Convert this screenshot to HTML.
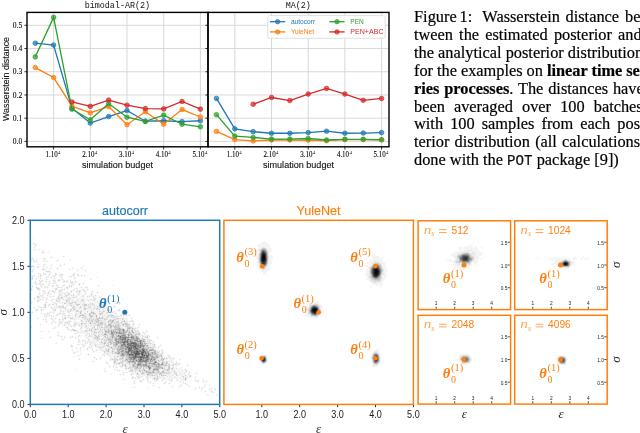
<!DOCTYPE html>
<html><head><meta charset="utf-8"><style>
html,body{margin:0;padding:0;background:#fff;width:640px;height:433px;overflow:hidden;position:relative}
.l{will-change:transform;position:absolute;left:414.3px;width:246px;font-family:"Liberation Serif",serif;font-size:16.35px;line-height:18px;color:#000;-webkit-text-stroke:0.2px #000;white-space:nowrap}
.j{text-align:justify;text-align-last:justify;white-space:normal}
.m{font-family:"Liberation Mono",monospace;font-size:14.2px;color:#111}
.sp{display:inline-block;height:1px}
b{font-weight:bold}
</style></head><body>
<svg width="640" height="433" viewBox="0 0 640 433" style="position:absolute;left:0;top:0;will-change:transform"><g fill="none" stroke-width="1" shape-rendering="crispEdges"><path stroke="rgb(244,244,244)" d="M0 0.5m262 241h4m-233 1h1m227 0h5m1 0h1m205 0h1m-442 1h1m1 0h2m225 0h1m1 0h5m204 0h1m-440 1h2m1 0h1m221 0h11m201 0h1m-437 1h1m1 0h1m221 0h12m199 0h3m2 0h1m-441 1h2m221 0h13m191 0h1m3 0h8m2 0h1m-441 1h1m223 0h3m3 0h5m188 0h5m1 0h9m2 0h2m4 0h2m-449 1h1m223 0h3m6 0h5m186 0h4m1 0h15m4 0h1m-450 1h1m1 0h1m2 0h1m1 0h1m216 0h2m8 0h4m188 0h3m2 0h14m-444 1h1m4 0h1m2 0h1m213 0h2m10 0h4m188 0h7m3 0h1m1 0h7m-437 1h2m213 0h2m9 0h4m182 0h1m2 0h7m1 0h2m2 0h3m1 0h7m-439 1h1m2 0h1m2 0h1m1 0h1m208 0h1m10 0h1m104 0h1m79 0h8m8 0h2m3 0h8m-441 1h2m213 0h2m10 0h1m104 0h1m77 0h6m18 0h6m2 0h1m-229 1h2m11 0h1m103 0h2m76 0h6m18 0h7m2 0h1m-230 1h3m11 0h4m98 0h6m74 0h6m18 0h7m-431 1h1m10 0h1m1 0h1m190 0h3m11 0h4m98 0h8m73 0h3m20 0h1m1 0h2m4 0h1m60 0h1m38 0h1m-552 1h1m11 0h1m5 0h1m1 0h1m10 0h1m192 0h2m11 0h4m99 0h7m75 0h2m19 0h2m1 0h2m56 0h1m15 0h3m1 0h2m1 0h1m2 0h2m1 0h1m8 0h3m5 0h1m4 0h2m-558 1h1m1 0h1m9 0h1m1 0h1m5 0h1m204 0h2m11 0h4m100 0h7m1 0h2m71 0h2m19 0h4m1 0h1m3 0h1m42 0h2m6 0h1m2 0h2m5 0h1m2 0h22m2 0h5m3 0h3m2 0h4m9 0h1m-568 1h3m9 0h1m1 0h1m11 0h1m12 0h1m186 0h1m11 0h3m98 0h2m1 0h9m67 0h2m3 0h2m19 0h4m1 0h2m68 0h3m1 0h10m3 0h3m2 0h3m6 0h2m1 0h3m-555 1h1m1 0h1m1 0h1m6 0h2m1 0h1m9 0h1m1 0h1m10 0h1m187 0h1m11 0h2m99 0h5m1 0h1m1 0h5m3 0h1m59 0h6m2 0h1m20 0h3m73 0h2m2 0h6m9 0h1m-540 1h1m1 0h1m1 0h1m1 0h1m6 0h2m1 0h1m9 0h1m199 0h1m11 0h3m98 0h4m2 0h1m1 0h5m67 0h5m18 0h1m1 0h3m77 0h4m12 0h4m-541 1h1m1 0h1m219 0h2m11 0h3m95 0h5m7 0h6m68 0h2m17 0h6m75 0h5m15 0h2m-537 1h1m5 0h1m19 0h1m192 0h2m10 0h3m95 0h1m2 0h2m9 0h5m68 0h2m15 0h1m2 0h3m75 0h5m15 0h3m-538 1h1m1 0h1m3 0h1m1 0h1m5 0h1m8 0h1m2 0h1m1 0h1m191 0h2m9 0h3m95 0h1m2 0h3m10 0h4m67 0h4m3 0h2m9 0h1m3 0h1m76 0h2m2 0h1m15 0h3m-544 1h3m4 0h1m4 0h2m5 0h1m1 0h1m6 0h1m1 0h1m2 0h1m193 0h1m9 0h2m94 0h4m1 0h2m11 0h3m68 0h4m2 0h3m2 0h8m3 0h1m81 0h3m11 0h1m2 0h2m-542 1h1m2 0h1m1 0h1m2 0h1m1 0h1m1 0h1m4 0h1m8 0h1m22 0h1m173 0h2m8 0h3m96 0h4m12 0h4m68 0h17m4 0h1m77 0h2m2 0h3m10 0h1m-540 1h3m2 0h1m1 0h1m4 0h1m1 0h1m1 0h1m2 0h1m6 0h1m14 0h1m7 0h1m1 0h1m175 0h2m6 0h4m97 0h2m14 0h4m66 0h3m1 0h14m88 0h5m5 0h2m-538 1h1m3 0h1m4 0h3m1 0h1m2 0h1m1 0h1m4 0h1m1 0h1m10 0h1m1 0h1m1 0h1m7 0h1m177 0h1m6 0h5m96 0h2m14 0h3m68 0h2m1 0h8m3 0h3m93 0h3m-535 1h1m1 0h1m6 0h1m3 0h1m4 0h1m6 0h1m10 0h1m1 0h1m1 0h1m4 0h1m7 0h1m173 0h3m5 0h3m97 0h2m15 0h2m1 0h1m67 0h1m1 0h3m3 0h2m-433 1h2m8 0h3m1 0h4m19 0h1m6 0h1m1 0h1m5 0h1m176 0h2m1 0h6m97 0h2m15 0h4m67 0h1m2 0h1m-428 1h1m1 0h1m11 0h1m4 0h1m26 0h1m7 0h1m174 0h7m99 0h3m15 0h3m-355 1h1m5 0h1m4 0h1m2 0h4m1 0h1m3 0h1m18 0h1m185 0h1m2 0h3m100 0h3m14 0h4m-350 1h1m1 0h2m1 0h1m1 0h2m3 0h2m3 0h1m1 0h1m3 0h1m1 0h1m10 0h1m1 0h1m1 0h1m185 0h3m100 0h3m15 0h2m-352 1h1m3 0h2m1 0h1m1 0h2m1 0h1m1 0h1m1 0h1m6 0h1m1 0h1m3 0h1m8 0h1m1 0h1m1 0h1m1 0h1m2 0h1m2 0h1m178 0h3m1 0h1m97 0h3m16 0h2m-354 1h2m1 0h1m2 0h1m3 0h1m2 0h1m2 0h2m3 0h2m1 0h1m1 0h1m3 0h1m6 0h1m1 0h2m1 0h1m2 0h1m1 0h2m1 0h2m1 0h1m279 0h4m14 0h4m-356 1h1m1 0h2m2 0h1m1 0h1m1 0h1m4 0h2m1 0h1m1 0h2m2 0h1m3 0h3m6 0h1m1 0h1m1 0h2m1 0h1m2 0h1m2 0h1m2 0h1m281 0h2m14 0h5m-356 1h1m4 0h1m1 0h1m1 0h1m4 0h1m1 0h2m1 0h1m1 0h3m5 0h1m1 0h1m6 0h1m1 0h1m2 0h1m292 0h1m14 0h4m-356 1h1m2 0h1m1 0h1m1 0h1m1 0h1m1 0h1m4 0h1m4 0h1m1 0h1m1 0h1m3 0h1m1 0h2m10 0h1m1 0h1m14 0h1m276 0h2m14 0h2m-354 1h2m3 0h1m2 0h2m1 0h1m2 0h1m1 0h1m5 0h2m3 0h1m1 0h2m1 0h1m6 0h1m3 0h1m16 0h1m274 0h4m12 0h3m-347 1h1m1 0h2m1 0h1m1 0h2m2 0h1m2 0h1m2 0h1m1 0h1m2 0h1m1 0h3m1 0h2m1 0h1m1 0h1m3 0h1m291 0h3m11 0h4m-350 1h1m3 0h1m2 0h1m2 0h1m1 0h2m1 0h1m2 0h1m1 0h1m2 0h2m2 0h1m2 0h1m2 0h1m1 0h3m1 0h1m1 0h1m293 0h1m10 0h2m-349 1h1m1 0h1m2 0h3m4 0h1m2 0h1m3 0h2m1 0h1m6 0h5m1 0h1m3 0h4m6 0h1m286 0h2m5 0h1m2 0h3m-349 1h1m1 0h1m1 0h1m2 0h3m4 0h1m1 0h1m1 0h1m1 0h2m14 0h5m3 0h2m2 0h1m1 0h1m287 0h2m1 0h8m-348 1h1m1 0h5m2 0h1m3 0h3m2 0h1m2 0h2m5 0h2m4 0h1m1 0h2m1 0h1m3 0h1m1 0h1m2 0h1m289 0h6m1 0h3m-351 1h1m3 0h1m2 0h1m1 0h3m1 0h1m1 0h1m1 0h1m2 0h1m1 0h2m2 0h1m3 0h1m2 0h1m2 0h1m1 0h1m1 0h2m5 0h1m17 0h1m1 0h1m271 0h1m4 0h2m1 0h3m-351 1h1m1 0h1m2 0h1m3 0h1m1 0h1m1 0h1m1 0h3m2 0h1m1 0h1m2 0h4m1 0h1m1 0h2m1 0h3m1 0h1m1 0h1m8 0h1m3 0h3m10 0h1m272 0h1m8 0h2m-350 1h1m2 0h1m2 0h2m1 0h1m1 0h1m1 0h2m1 0h1m3 0h1m2 0h3m1 0h2m1 0h1m2 0h1m2 0h2m1 0h1m4 0h1m3 0h1m1 0h1m1 0h1m1 0h1m1 0h1m281 0h1m9 0h1m-350 1h1m8 0h1m3 0h1m2 0h1m6 0h1m2 0h2m2 0h2m1 0h3m1 0h1m5 0h2m1 0h1m3 0h1m1 0h1m1 0h3m15 0h1m266 0h1m-341 1h1m1 0h1m19 0h1m1 0h1m2 0h1m1 0h2m2 0h1m1 0h1m1 0h1m5 0h1m1 0h3m2 0h1m1 0h1m1 0h1m1 0h1m1 0h1m13 0h1m-72 1h1m6 0h1m1 0h1m1 0h3m4 0h1m1 0h1m1 0h2m1 0h1m1 0h1m2 0h4m5 0h3m1 0h1m1 0h1m1 0h1m2 0h2m1 0h4m4 0h1m-54 1h1m2 0h1m2 0h1m2 0h1m1 0h2m2 0h2m2 0h1m3 0h1m4 0h1m2 0h1m1 0h2m1 0h1m2 0h1m3 0h2m2 0h1m4 0h1m1 0h1m3 0h1m-59 1h1m3 0h3m1 0h1m1 0h1m2 0h2m1 0h1m2 0h1m1 0h7m1 0h4m4 0h1m1 0h1m1 0h1m3 0h2m5 0h2m3 0h1m1 0h1m-61 1h1m1 0h1m1 0h1m1 0h1m1 0h2m1 0h2m3 0h1m3 0h1m1 0h2m1 0h1m1 0h3m2 0h1m2 0h1m3 0h5m2 0h1m1 0h1m3 0h1m1 0h1m4 0h1m-59 1h2m1 0h2m1 0h1m1 0h3m1 0h1m6 0h1m2 0h2m1 0h3m3 0h3m1 0h1m2 0h1m2 0h1m1 0h2m1 0h1m4 0h1m1 0h1m2 0h1m-59 1h3m3 0h1m2 0h1m1 0h1m1 0h1m2 0h1m4 0h1m3 0h1m1 0h1m3 0h3m1 0h1m1 0h6m1 0h2m1 0h1m2 0h4m1 0h3m1 0h1m-61 1h1m2 0h2m1 0h2m3 0h1m1 0h1m1 0h2m1 0h1m2 0h1m2 0h1m1 0h2m3 0h3m1 0h2m1 0h2m1 0h1m2 0h2m2 0h1m1 0h1m1 0h1m1 0h3m1 0h2m3 0h1m-66 1h1m1 0h1m3 0h3m1 0h1m1 0h2m2 0h1m2 0h1m2 0h2m5 0h6m1 0h3m3 0h2m1 0h1m1 0h4m1 0h4m2 0h1m1 0h2m2 0h1m1 0h1m6 0h1m-75 1h1m1 0h1m1 0h4m1 0h2m1 0h1m1 0h1m4 0h1m3 0h1m3 0h1m2 0h2m1 0h1m4 0h14m1 0h2m2 0h2m1 0h1m2 0h1m2 0h1m2 0h2m2 0h1m1 0h1m3 0h1m1 0h1m7 0h1m-89 1h1m2 0h2m2 0h1m1 0h1m1 0h1m1 0h1m3 0h1m1 0h5m2 0h3m1 0h2m4 0h4m2 0h1m1 0h3m3 0h7m1 0h1m9 0h1m1 0h1m2 0h1m5 0h1m-78 1h1m2 0h2m1 0h1m3 0h1m3 0h1m1 0h1m2 0h1m4 0h1m2 0h3m4 0h2m1 0h8m3 0h4m1 0h4m2 0h1m1 0h4m2 0h2m2 0h2m13 0h1m-92 1h1m7 0h1m6 0h1m4 0h1m1 0h1m1 0h2m3 0h1m1 0h1m1 0h2m2 0h1m1 0h2m1 0h1m4 0h4m2 0h7m1 0h5m1 0h2m7 0h1m1 0h1m9 0h1m191 0h1m4 0h2m-286 1h1m5 0h1m6 0h1m1 0h1m4 0h1m1 0h2m1 0h1m1 0h3m1 0h2m2 0h1m8 0h4m1 0h5m2 0h13m7 0h1m9 0h1m1 0h1m189 0h9m-288 1h1m12 0h3m2 0h1m2 0h3m1 0h1m3 0h4m2 0h2m5 0h2m2 0h2m1 0h3m2 0h5m4 0h5m1 0h2m1 0h2m1 0h1m11 0h1m1 0h1m187 0h7m2 0h3m-277 1h1m2 0h1m1 0h1m1 0h2m2 0h2m1 0h1m4 0h7m3 0h3m5 0h2m12 0h5m1 0h3m1 0h4m11 0h1m188 0h2m9 0h2m-283 1h1m7 0h2m1 0h1m2 0h2m1 0h1m1 0h5m1 0h1m2 0h1m1 0h2m4 0h2m3 0h4m4 0h1m3 0h3m1 0h4m1 0h2m3 0h1m8 0h1m192 0h2m11 0h3m-289 1h1m2 0h1m1 0h2m2 0h1m2 0h1m1 0h1m2 0h1m2 0h4m6 0h4m2 0h3m2 0h5m1 0h2m4 0h1m3 0h3m1 0h2m3 0h2m2 0h2m7 0h1m1 0h1m190 0h3m12 0h2m-290 1h1m1 0h1m2 0h2m1 0h2m3 0h1m3 0h1m1 0h2m1 0h1m1 0h1m8 0h2m3 0h1m4 0h3m3 0h2m1 0h3m3 0h3m1 0h2m3 0h3m1 0h5m5 0h2m190 0h2m13 0h2m-289 1h1m1 0h2m2 0h2m1 0h1m1 0h1m5 0h1m1 0h4m1 0h2m1 0h2m3 0h3m1 0h2m3 0h4m2 0h2m6 0h4m8 0h2m2 0h4m2 0h2m6 0h1m185 0h2m14 0h1m-287 1h1m2 0h1m1 0h1m1 0h1m1 0h1m7 0h2m2 0h1m3 0h2m2 0h1m1 0h4m6 0h8m2 0h5m1 0h1m1 0h2m5 0h7m1 0h2m1 0h1m5 0h1m1 0h1m183 0h3m14 0h1m-287 1h1m1 0h1m2 0h1m1 0h2m8 0h1m3 0h1m2 0h1m1 0h3m1 0h2m5 0h1m2 0h1m3 0h2m1 0h9m1 0h7m1 0h2m2 0h3m3 0h3m4 0h1m2 0h1m184 0h2m14 0h2m-291 1h1m3 0h1m4 0h1m8 0h1m2 0h3m3 0h2m1 0h1m1 0h3m4 0h5m6 0h5m1 0h3m3 0h5m2 0h1m3 0h11m2 0h2m186 0h2m13 0h3m-293 1h1m1 0h1m7 0h1m5 0h3m1 0h2m1 0h1m4 0h6m2 0h1m1 0h3m2 0h5m3 0h5m1 0h2m5 0h4m5 0h2m2 0h4m1 0h4m189 0h2m13 0h3m-292 1h1m7 0h1m1 0h1m1 0h3m2 0h2m2 0h1m3 0h2m2 0h2m2 0h1m2 0h5m2 0h1m1 0h2m3 0h2m2 0h3m7 0h3m4 0h3m2 0h7m1 0h1m189 0h2m12 0h3m-282 1h1m1 0h1m1 0h2m1 0h2m6 0h1m1 0h4m1 0h3m2 0h5m1 0h1m2 0h3m6 0h2m3 0h1m5 0h2m4 0h6m3 0h6m2 0h4m2 0h1m2 0h1m176 0h2m12 0h3m-279 1h5m1 0h2m1 0h1m1 0h1m1 0h2m3 0h2m2 0h2m2 0h5m2 0h2m7 0h3m5 0h1m3 0h2m1 0h1m3 0h2m7 0h6m2 0h1m1 0h2m1 0h2m1 0h1m174 0h5m9 0h2m-278 1h1m1 0h1m1 0h1m1 0h2m1 0h1m1 0h1m1 0h1m5 0h9m1 0h1m1 0h1m1 0h2m3 0h1m5 0h2m9 0h1m1 0h2m1 0h4m11 0h6m2 0h1m2 0h1m177 0h3m8 0h3m-284 1h1m6 0h1m1 0h1m4 0h1m1 0h1m1 0h1m5 0h1m1 0h1m2 0h2m1 0h1m3 0h2m1 0h3m1 0h2m5 0h2m4 0h3m8 0h2m3 0h2m1 0h1m3 0h1m1 0h6m2 0h1m4 0h1m178 0h8m-282 1h1m1 0h1m4 0h1m1 0h1m4 0h1m1 0h1m1 0h1m1 0h1m2 0h1m2 0h2m2 0h1m1 0h2m3 0h9m6 0h1m5 0h1m13 0h5m1 0h1m9 0h2m1 0h1m2 0h1m1 0h1m180 0h5m-281 1h1m4 0h1m1 0h1m1 0h1m4 0h1m1 0h1m1 0h1m2 0h1m1 0h2m2 0h3m3 0h4m1 0h9m19 0h1m4 0h1m10 0h3m2 0h4m3 0h1m-89 1h1m1 0h2m5 0h2m5 0h5m4 0h3m3 0h2m4 0h1m2 0h3m17 0h1m2 0h2m8 0h1m2 0h3m3 0h3m2 0h1m1 0h2m183 0h1m-273 1h1m1 0h1m4 0h1m1 0h2m2 0h1m1 0h2m1 0h1m1 0h3m3 0h1m1 0h4m3 0h1m2 0h3m20 0h1m12 0h2m6 0h1m1 0h1m4 0h1m-89 1h1m4 0h1m1 0h2m1 0h1m4 0h2m1 0h1m5 0h1m2 0h2m1 0h6m1 0h3m1 0h1m18 0h1m16 0h1m4 0h1m1 0h1m1 0h2m-94 1h1m9 0h1m1 0h1m2 0h1m2 0h1m3 0h1m1 0h3m2 0h1m4 0h1m1 0h2m1 0h2m5 0h3m17 0h2m20 0h2m2 0h1m1 0h1m4 0h1m-101 1h1m11 0h1m6 0h2m1 0h1m1 0h1m1 0h1m1 0h1m1 0h2m2 0h1m3 0h4m2 0h2m1 0h4m2 0h2m27 0h1m8 0h1m1 0h1m1 0h1m3 0h1m1 0h1m-101 1h1m16 0h1m1 0h1m3 0h1m1 0h1m2 0h2m1 0h2m2 0h4m1 0h1m1 0h3m2 0h1m1 0h2m1 0h2m9 0h1m26 0h4m5 0h1m-109 1h1m23 0h1m2 0h1m5 0h1m1 0h2m2 0h1m1 0h2m1 0h1m2 0h3m1 0h3m2 0h6m2 0h2m6 0h1m17 0h1m1 0h2m5 0h2m1 0h1m4 0h1m-86 1h2m1 0h1m8 0h1m2 0h1m2 0h1m2 0h1m5 0h1m1 0h1m1 0h1m2 0h5m3 0h2m25 0h4m7 0h3m1 0h1m1 0h1m-88 1h1m1 0h2m10 0h3m3 0h2m5 0h1m2 0h1m1 0h3m1 0h1m1 0h1m21 0h1m12 0h2m9 0h1m1 0h1m-86 1h1m13 0h1m1 0h1m1 0h1m3 0h1m3 0h4m2 0h4m4 0h1m5 0h1m36 0h2m-90 1h1m19 0h1m1 0h1m5 0h2m2 0h5m8 0h1m2 0h3m37 0h1m1 0h1m7 0h1m-107 1h1m1 0h1m6 0h1m8 0h1m12 0h1m1 0h4m1 0h3m1 0h2m4 0h3m5 0h2m5 0h1m35 0h1m3 0h1m1 0h1m1 0h1m-100 1h1m8 0h1m1 0h1m15 0h1m1 0h1m1 0h14m47 0h1m1 0h1m1 0h1m1 0h1m-89 1h1m15 0h1m1 0h1m1 0h1m1 0h3m1 0h3m1 0h1m1 0h3m4 0h1m1 0h2m39 0h1m1 0h2m1 0h1m-88 1h1m16 0h1m3 0h1m5 0h4m1 0h1m1 0h1m3 0h2m43 0h2m1 0h1m2 0h1m-91 1h1m1 0h1m1 0h1m10 0h1m5 0h1m1 0h2m1 0h3m1 0h2m3 0h2m6 0h1m39 0h1m2 0h4m1 0h2m-100 1h1m7 0h1m1 0h1m1 0h1m1 0h1m5 0h2m1 0h1m1 0h1m1 0h1m1 0h2m3 0h4m4 0h2m6 0h1m1 0h1m36 0h3m2 0h1m3 0h1m1 0h1m6 0h1m-117 1h1m7 0h1m1 0h1m9 0h1m1 0h1m1 0h1m3 0h1m1 0h2m1 0h1m1 0h1m1 0h1m6 0h1m1 0h7m6 0h3m37 0h2m1 0h2m3 0h2m6 0h1m1 0h1m-117 1h1m7 0h1m11 0h1m1 0h1m5 0h1m4 0h2m1 0h1m7 0h5m1 0h1m7 0h1m44 0h2m1 0h1m8 0h1m-97 1h1m1 0h1m13 0h1m1 0h1m2 0h1m1 0h1m2 0h1m1 0h2m1 0h3m51 0h1m3 0h2m-90 1h1m15 0h2m1 0h1m1 0h1m1 0h1m1 0h1m1 0h7m3 0h2m1 0h1m43 0h1m5 0h1m-76 1h1m2 0h1m1 0h3m1 0h4m1 0h10m1 0h2m3 0h1m42 0h4m-98 1h1m20 0h3m4 0h3m1 0h1m2 0h1m1 0h4m1 0h1m52 0h2m1 0h1m-100 1h1m1 0h1m20 0h1m3 0h1m1 0h1m1 0h2m1 0h1m1 0h3m1 0h3m1 0h2m51 0h3m-99 1h1m14 0h1m5 0h1m1 0h1m1 0h1m1 0h3m3 0h1m1 0h1m1 0h1m2 0h1m1 0h2m2 0h1m45 0h2m1 0h1m3 0h1m4 0h1m-91 1h1m1 0h1m5 0h1m3 0h2m1 0h1m3 0h2m1 0h2m3 0h6m8 0h2m37 0h3m2 0h1m3 0h1m1 0h1m-92 1h1m2 0h1m8 0h1m1 0h1m3 0h1m1 0h3m1 0h1m2 0h1m2 0h2m3 0h1m43 0h1m1 0h1m3 0h1m2 0h3m-90 1h2m3 0h1m3 0h1m2 0h1m3 0h2m1 0h1m1 0h1m2 0h4m5 0h4m48 0h2m1 0h1m-85 1h1m1 0h1m1 0h1m1 0h1m4 0h1m1 0h5m3 0h4m1 0h4m1 0h2m46 0h2m1 0h2m-87 1h1m3 0h1m3 0h1m5 0h1m1 0h1m2 0h1m1 0h1m2 0h4m1 0h4m5 0h2m43 0h4m2 0h2m212 0h4m-308 1h1m1 0h1m3 0h1m1 0h1m1 0h1m5 0h1m4 0h2m1 0h1m1 0h1m1 0h3m1 0h2m5 0h1m4 0h1m40 0h4m1 0h1m1 0h1m211 0h4m-307 1h1m1 0h1m1 0h1m1 0h1m1 0h1m11 0h1m1 0h3m4 0h2m7 0h1m49 0h2m212 0h1m2 0h2m-306 1h1m1 0h1m1 0h1m15 0h1m5 0h2m2 0h1m1 0h2m2 0h1m50 0h2m1 0h1m208 0h2m4 0h2m-307 1h1m1 0h1m5 0h1m6 0h1m13 0h1m1 0h1m1 0h1m2 0h3m47 0h2m2 0h1m208 0h1m6 0h1m87 0h1m-388 1h1m6 0h1m1 0h1m11 0h1m1 0h4m2 0h7m47 0h1m4 0h1m202 0h1m7 0h2m79 0h9m-392 1h1m1 0h1m8 0h1m13 0h2m1 0h1m1 0h10m45 0h1m1 0h1m2 0h1m1 0h1m91 0h1m4 0h1m104 0h1m8 0h1m78 0h2m8 0h1m89 0h5m-489 1h1m2 0h1m15 0h1m5 0h1m2 0h2m4 0h1m1 0h3m49 0h3m1 0h2m1 0h1m89 0h1m109 0h2m8 0h1m78 0h1m10 0h1m87 0h1m6 0h1m-492 1h1m18 0h1m1 0h1m4 0h1m5 0h1m2 0h5m1 0h2m2 0h1m40 0h1m2 0h1m1 0h4m1 0h2m1 0h1m196 0h1m9 0h1m78 0h1m10 0h2m85 0h2m7 0h1m-488 1h1m14 0h1m1 0h1m2 0h1m1 0h1m8 0h1m2 0h1m3 0h2m5 0h1m43 0h3m1 0h1m1 0h1m5 0h1m78 0h1m7 0h1m112 0h1m77 0h1m12 0h1m85 0h1m8 0h1m-489 1h1m1 0h1m14 0h1m1 0h1m2 0h1m8 0h1m55 0h3m1 0h5m5 0h1m79 0h1m7 0h1m103 0h1m8 0h1m77 0h1m12 0h1m85 0h1m9 0h1m-489 1h1m13 0h1m2 0h1m12 0h5m4 0h2m1 0h1m42 0h7m1 0h1m7 0h1m78 0h1m7 0h1m103 0h1m8 0h1m77 0h2m11 0h1m85 0h1m-466 1h1m1 0h1m11 0h1m6 0h1m2 0h4m45 0h1m2 0h1m1 0h4m2 0h1m90 0h1m103 0h1m88 0h1m10 0h1m85 0h1m8 0h1m-474 1h1m11 0h1m1 0h1m8 0h2m6 0h2m34 0h1m7 0h4m1 0h1m1 0h1m1 0h1m1 0h1m200 0h1m89 0h1m86 0h1m8 0h1m-461 1h1m1 0h1m4 0h1m9 0h2m44 0h7m1 0h2m1 0h1m80 0h1m3 0h1m106 0h1m6 0h1m81 0h1m5 0h3m88 0h1m-452 1h1m5 0h3m1 0h2m1 0h2m4 0h3m41 0h2m5 0h1m1 0h1m7 0h1m74 0h2m108 0h1m5 0h1m83 0h5m92 0h2m4 0h1m-457 1h1m3 0h2m1 0h1m2 0h3m5 0h2m41 0h2m2 0h5m7 0h1m1 0h1m183 0h1m4 0h1m-270 1h1m1 0h1m1 0h1m1 0h1m1 0h2m1 0h1m3 0h2m2 0h2m2 0h1m38 0h3m1 0h1m1 0h1m10 0h1m185 0h4m-268 1h1m3 0h1m1 0h1m1 0h1m2 0h3m1 0h1m2 0h1m37 0h3m2 0h2m2 0h3m3 0h3m191 0h1m-271 1h1m9 0h1m1 0h1m5 0h1m1 0h1m8 0h1m32 0h1m7 0h2m1 0h5m3 0h1m-83 1h1m1 0h1m7 0h1m1 0h1m1 0h1m1 0h1m5 0h5m3 0h1m13 0h1m12 0h2m8 0h1m2 0h10m1 0h1m1 0h1m-83 1h2m8 0h1m1 0h1m1 0h1m1 0h1m7 0h1m5 0h1m25 0h2m8 0h2m3 0h5m1 0h1m1 0h3m1 0h1m-84 1h1m1 0h1m10 0h1m1 0h1m3 0h1m2 0h1m1 0h1m4 0h2m2 0h2m21 0h1m4 0h1m4 0h4m1 0h11m1 0h1m1 0h1m-85 1h1m16 0h1m1 0h2m1 0h1m1 0h8m1 0h2m31 0h3m2 0h4m1 0h1m1 0h4m1 0h1m1 0h1m5 0h1m-87 1h1m9 0h1m2 0h1m2 0h1m3 0h3m1 0h2m3 0h2m4 0h1m25 0h3m3 0h7m1 0h1m2 0h2m5 0h1m1 0h1m-87 1h1m7 0h1m1 0h2m1 0h1m5 0h1m1 0h2m1 0h1m4 0h1m4 0h1m18 0h1m1 0h1m2 0h6m2 0h4m1 0h6m1 0h2m5 0h1m-77 1h1m2 0h1m6 0h2m4 0h2m1 0h8m11 0h1m8 0h5m1 0h3m3 0h6m1 0h3m2 0h1m-60 1h2m2 0h1m2 0h2m1 0h1m2 0h1m2 0h4m1 0h3m4 0h1m1 0h1m1 0h3m1 0h2m1 0h9m1 0h1m2 0h1m1 0h3m2 0h1m3 0h1m-65 1h1m2 0h4m2 0h3m2 0h2m2 0h1m1 0h3m5 0h2m1 0h12m1 0h3m1 0h4m1 0h1m1 0h1m1 0h3m3 0h1m1 0h1m-73 1h1m6 0h1m1 0h2m1 0h2m1 0h1m3 0h1m2 0h1m1 0h1m1 0h1m1 0h1m6 0h4m2 0h1m1 0h5m1 0h3m1 0h3m1 0h4m2 0h1m7 0h1m7 0h1m-81 1h1m1 0h1m6 0h1m2 0h1m2 0h1m1 0h1m1 0h1m1 0h1m1 0h1m1 0h1m3 0h2m4 0h1m3 0h7m1 0h3m3 0h3m1 0h3m12 0h1m2 0h1m3 0h1m-79 1h1m9 0h1m4 0h1m1 0h1m1 0h2m2 0h2m4 0h1m1 0h1m1 0h1m3 0h1m1 0h1m2 0h1m2 0h2m1 0h1m3 0h1m1 0h1m1 0h5m1 0h1m7 0h1m1 0h2m1 0h1m3 0h1m2 0h1m-74 1h1m1 0h1m3 0h1m2 0h1m4 0h1m1 0h2m3 0h1m1 0h1m5 0h1m2 0h1m4 0h3m4 0h1m1 0h1m1 0h1m1 0h1m11 0h2m1 0h1m3 0h1m1 0h2m1 0h1m-74 1h1m5 0h2m6 0h2m1 0h1m1 0h1m10 0h1m1 0h1m2 0h1m10 0h1m1 0h1m1 0h2m11 0h1m5 0h1m2 0h1m-74 1h1m1 0h1m14 0h1m1 0h1m1 0h1m8 0h1m1 0h1m2 0h1m1 0h1m12 0h2m1 0h2m17 0h1m3 0h1m-76 1h1m18 0h1m10 0h1m4 0h1m11 0h1m3 0h2m1 0h1m15 0h1m1 0h1m-55 1h1m1 0h1m17 0h1m6 0h2m1 0h1m4 0h1m1 0h1m14 0h2m3 0h1m-75 1h1m17 0h1m5 0h1m11 0h1m1 0h1m4 0h1m1 0h2m6 0h1m1 0h1m8 0h1m3 0h1m1 0h1m-73 1h1m2 0h1m10 0h1m10 0h1m1 0h1m11 0h1m6 0h1m9 0h1m5 0h1m2 0h1m1 0h1m1 0h1m1 0h1m6 0h1m2 0h1m-56 1h1m34 0h1m1 0h1m2 0h1m1 0h1m1 0h1m5 0h2m1 0h2m1 0h1m-21 1h1m5 0h2m5 0h1m1 0h2m2 0h1m1 0h1m-17 1h1m4 0h1m3 0h2m1 0h1m2 0h1m-15 1h1m2 0h1m1 0h1m3 0h1m1 0h2m-9 1h1m5 0h2m1 0h1m-2 1h1m-7 1h1m8 0h1m-10 1h1m7 0h1m1 0h1"/><path stroke="rgb(234,234,234)" d="M0 0.5m33 239h1m228 4h1m-229 4h1m227 0h1m1 0h1m1 1h1m-233 1h1m4 0h1m219 0h1m-217 1h1m214 0h1m8 0h1m199 0h3m1 0h1m-213 1h1m204 0h1m2 0h2m3 0h1m-425 1h1m210 0h1m8 0h1m193 0h3m3 0h2m2 0h3m-207 1h1m189 0h3m9 0h6m-218 1h1m9 0h1m188 0h1m14 0h3m-217 1h1m9 0h1m203 0h3m-412 1h1m194 0h1m196 0h2m17 0h1m1 0h1m-426 1h1m404 0h1m17 0h1m2 0h1m-22 1h1m17 0h1m-439 1h1m221 0h1m9 0h1m187 0h1m17 0h1m89 0h1m-534 1h1m38 0h1m187 0h1m9 0h1m106 0h1m1 0h1m77 0h1m17 0h2m86 0h2m5 0h2m-527 1h1m2 0h1m211 0h1m9 0h1m105 0h2m1 0h1m94 0h1m1 0h1m84 0h2m9 0h1m-313 1h1m9 0h1m103 0h2m1 0h1m1 0h2m76 0h1m15 0h1m86 0h2m11 0h2m-305 1h1m103 0h1m7 0h1m75 0h3m1 0h2m8 0h1m86 0h3m11 0h1m-534 1h1m25 0h1m194 0h1m112 0h1m8 0h1m75 0h3m2 0h2m3 0h1m2 0h1m86 0h3m11 0h1m-521 1h1m31 0h1m175 0h1m7 0h1m103 0h1m85 0h2m3 0h2m96 0h1m9 0h1m-312 1h1m110 0h1m189 0h2m-516 1h1m34 0h1m287 0h1m12 0h1m181 0h1m1 0h3m-519 1h1m21 0h1m9 0h1m177 0h1m4 0h1m-197 1h1m192 0h1m1 0h3m102 0h1m13 0h1m-307 1h1m7 0h1m177 0h1m105 0h1m13 0h1m-1 1h1m-15 2h1m13 0h1m-329 1h1m5 0h1m306 0h2m12 0h2m-350 1h1m5 0h1m19 0h1m308 0h1m12 0h1m-314 1h1m298 0h1m12 0h1m-350 1h1m63 0h1m271 0h1m0 1h1m12 0h1m-293 1h1m279 0h1m10 0h1m-12 1h1m0 1h2m7 0h1m-9 1h3m1 0h1m1 0h2m-6 1h1m-277 2h1m13 0h1m-76 2h1m-2 1h1m65 0h1m-66 1h1m1 0h1m15 0h1m4 1h1m18 0h1m-21 1h1m17 0h1m2 0h1m-13 2h1m-10 1h1m7 0h1m1 0h1m-29 1h1m18 0h1m-2 1h1m1 0h1m3 0h1m7 0h1m9 0h1m-26 1h1m1 0h1m13 0h1m-16 1h1m2 0h1m5 0h1m25 0h1m18 0h1m-56 1h1m7 0h3m13 0h1m10 0h1m1 0h1m26 0h1m-85 1h1m18 0h1m1 0h1m9 0h1m24 0h1m-58 1h1m20 0h1m8 0h1m4 0h1m1 0h1m1 0h1m5 0h1m-18 1h1m2 0h1m1 0h2m1 0h1m-5 1h1m2 0h1m3 0h1m2 0h1m4 0h1m6 0h1m1 0h1m221 0h2m-247 1h2m3 0h1m7 0h1m3 0h1m1 0h2m8 0h1m210 0h3m5 0h1m-275 1h1m27 0h1m3 0h1m1 0h1m4 0h1m4 0h1m1 0h1m12 0h1m205 0h1m9 0h1m-275 1h1m12 0h1m2 0h1m11 0h1m10 0h2m3 0h1m8 0h1m4 0h1m205 0h1m10 0h1m-287 1h1m9 0h1m14 0h2m1 0h1m1 0h1m9 0h1m4 0h1m1 0h1m2 0h1m3 0h1m5 0h1m2 0h1m1 0h1m208 0h1m11 0h1m-258 1h1m1 0h1m6 0h1m1 0h1m5 0h1m2 0h1m3 0h1m5 0h1m1 0h1m2 0h2m3 0h1m203 0h2m11 0h1m-278 1h1m26 0h1m1 0h2m1 0h1m21 0h1m2 0h1m206 0h1m12 0h1m-267 1h1m12 0h1m1 0h1m1 0h1m2 0h1m3 0h1m12 0h1m7 0h1m3 0h1m4 0h1m198 0h1m-240 1h2m9 0h1m12 0h2m8 0h1m-71 1h1m46 0h1m1 0h1m8 0h1m3 0h1m4 0h3m1 0h1m2 0h1m213 0h1m-280 1h1m37 0h1m1 0h1m25 0h1m211 0h1m-245 1h1m4 0h2m1 0h2m3 0h1m3 0h1m1 0h1m1 0h1m4 0h2m6 0h1m1 0h1m196 0h2m9 0h1m-244 1h1m2 0h1m4 0h2m7 0h1m1 0h1m1 0h1m2 0h1m2 0h1m6 0h1m199 0h1m-267 1h1m30 0h1m4 0h1m1 0h1m3 0h1m6 0h1m1 0h1m1 0h1m1 0h1m2 0h1m4 0h1m1 0h2m2 0h2m1 0h1m193 0h4m3 0h1m-254 1h1m6 0h1m12 0h1m4 0h2m1 0h1m4 0h2m1 0h2m1 0h1m4 0h1m2 0h1m3 0h1m1 0h1m-81 1h1m45 0h2m1 0h2m3 0h2m2 0h1m7 0h1m1 0h3m5 0h1m1 0h1m3 0h1m1 0h2m-38 1h2m3 0h1m1 0h1m1 0h1m4 0h4m4 0h1m1 0h1m1 0h2m1 0h1m1 0h3m4 0h1m-42 1h1m3 0h2m2 0h1m2 0h2m5 0h1m1 0h1m1 0h2m2 0h1m5 0h2m1 0h2m3 0h2m-55 1h1m11 0h1m5 0h1m1 0h2m2 0h1m5 0h3m1 0h1m1 0h1m1 0h1m6 0h2m5 0h1m3 0h1m5 0h1m-77 1h1m3 0h1m6 0h1m1 0h1m13 0h1m3 0h1m1 0h1m2 0h2m1 0h2m3 0h1m4 0h2m1 0h1m1 0h2m2 0h1m1 0h1m3 0h2m1 0h1m1 0h3m-67 1h1m7 0h1m14 0h1m5 0h1m1 0h1m1 0h1m2 0h2m5 0h2m3 0h2m2 0h2m1 0h1m3 0h1m1 0h1m5 0h1m-88 1h1m41 0h1m2 0h1m4 0h2m2 0h3m6 0h1m2 0h2m4 0h3m5 0h1m18 0h1m-66 1h1m6 0h1m4 0h1m8 0h2m5 0h1m1 0h1m1 0h1m14 0h1m2 0h1m-40 1h1m7 0h1m4 0h5m1 0h1m15 0h1m1 0h1m-92 1h1m23 0h1m30 0h1m6 0h1m3 0h2m1 0h1m2 0h1m5 0h1m2 0h2m6 0h2m4 0h1m5 0h1m-80 1h1m27 0h1m9 0h1m1 0h5m1 0h5m1 0h3m1 0h1m3 0h1m9 0h2m9 0h1m-61 1h1m15 0h1m1 0h1m5 0h1m2 0h1m1 0h1m2 0h1m2 0h1m15 0h2m3 0h2m1 0h2m-63 1h1m12 0h1m2 0h1m1 0h1m1 0h1m1 0h2m3 0h1m1 0h3m21 0h1m4 0h1m2 0h1m1 0h1m-95 1h1m6 0h1m38 0h1m5 0h1m1 0h1m2 0h1m1 0h1m1 0h1m27 0h1m3 0h1m1 0h1m1 0h1m-81 1h1m34 0h1m3 0h1m1 0h1m1 0h1m1 0h2m26 0h1m2 0h1m1 0h2m1 0h1m-46 1h2m2 0h1m2 0h1m1 0h1m3 0h1m19 0h1m6 0h2m1 0h1m-49 1h1m3 0h1m1 0h1m2 0h1m1 0h4m3 0h2m24 0h2m5 0h1m-51 1h2m4 0h2m1 0h1m2 0h1m5 0h3m26 0h3m2 0h1m-54 1h1m11 0h1m1 0h1m2 0h1m1 0h2m36 0h1m-97 1h1m43 0h1m4 0h1m3 0h2m1 0h1m32 0h1m2 0h1m14 0h1m-117 1h1m57 0h1m1 0h2m1 0h3m33 0h1m2 0h2m2 0h1m-53 1h1m2 0h1m1 0h1m2 0h1m1 0h2m6 0h1m31 0h1m3 0h1m-54 1h1m1 0h1m2 0h1m1 0h1m9 0h1m31 0h1m1 0h2m1 0h1m-47 1h1m1 0h1m1 0h1m37 0h1m1 0h2m-60 1h1m9 0h1m1 0h2m2 0h2m37 0h3m2 0h1m-95 1h1m44 0h1m4 0h1m1 0h2m38 0h2m1 0h1m-57 1h1m5 0h1m1 0h1m1 0h3m1 0h1m2 0h1m37 0h1m2 0h1m-60 1h1m1 0h1m6 0h3m3 0h2m42 0h1m6 0h1m-66 1h1m3 0h1m2 0h1m3 0h1m3 0h3m37 0h1m1 0h1m-50 1h1m4 0h2m3 0h2m38 0h2m-79 1h1m23 0h1m8 0h2m3 0h1m34 0h1m-45 1h1m1 0h1m1 0h1m5 0h1m38 0h1m-83 1h1m7 0h1m24 0h1m3 0h1m1 0h1m1 0h2m1 0h1m-40 1h1m25 0h1m1 0h2m2 0h1m1 0h1m2 0h3m41 0h1m3 0h1m212 0h2m-270 1h2m2 0h1m1 0h2m44 0h1m217 0h1m-298 1h1m27 0h1m4 0h1m47 0h1m216 0h1m-272 1h1m8 0h1m42 0h1m2 0h1m209 0h1m-295 1h1m38 0h3m142 0h4m113 0h1m81 0h2m3 0h1m1 0h1m-395 1h1m40 0h2m2 0h1m42 0h1m103 0h1m193 0h1m8 0h1m89 0h1m4 0h1m-451 1h1m2 0h2m1 0h1m3 0h1m34 0h1m4 0h1m95 0h1m110 0h1m-260 1h1m3 0h1m2 0h1m38 0h1m1 0h1m4 0h1m205 0h1m87 0h1m-349 1h1m1 0h1m4 0h1m4 0h2m32 0h4m19 0h1m278 0h1m-344 1h1m3 0h1m2 0h1m32 0h1m303 0h1m9 0h1m95 0h1m-474 1h1m27 0h1m2 0h3m30 0h1m2 0h2m2 0h1m2 0h1m92 0h1m119 0h1m80 0h1m8 0h1m-358 1h1m1 0h1m2 0h2m3 0h1m12 0h1m22 0h1m1 0h1m2 0h2m95 0h1m4 0h1m105 0h1m6 0h1m81 0h1m7 0h1m88 0h1m-444 1h1m1 0h1m2 0h2m3 0h2m1 0h1m1 0h2m28 0h1m3 0h1m3 0h1m7 0h1m87 0h1m199 0h3m92 0h1m5 0h1m-447 1h1m3 0h1m6 0h2m35 0h1m4 0h1m1 0h1m198 0h1m187 0h4m-442 1h2m1 0h1m2 0h1m1 0h1m35 0h1m205 0h4m-256 1h1m4 0h1m3 0h1m31 0h6m5 0h1m-49 1h1m2 0h1m2 0h1m10 0h1m9 0h1m10 0h1m8 0h1m-98 1h1m51 0h1m1 0h1m1 0h2m8 0h2m1 0h2m1 0h1m4 0h1m12 0h1m1 0h1m2 0h1m2 0h1m-70 1h1m9 0h1m15 0h1m1 0h1m4 0h2m1 0h1m1 0h1m2 0h2m4 0h1m7 0h1m2 0h2m2 0h1m4 0h2m-44 1h1m3 0h1m1 0h2m1 0h1m2 0h1m5 0h1m3 0h1m7 0h1m2 0h2m1 0h1m3 0h1m3 0h1m-69 1h1m25 0h1m4 0h1m4 0h1m1 0h1m11 0h2m4 0h1m2 0h1m1 0h4m-33 1h1m2 0h2m2 0h1m20 0h1m1 0h1m2 0h1m4 0h1m-40 1h1m1 0h1m5 0h1m1 0h1m7 0h2m1 0h2m3 0h2m1 0h1m2 0h2m4 0h1m21 0h1m-97 1h1m9 0h1m9 0h1m16 0h1m3 0h1m1 0h1m2 0h1m4 0h4m3 0h1m3 0h2m1 0h1m1 0h1m7 0h1m-38 1h1m11 0h1m2 0h1m1 0h1m1 0h1m1 0h2m5 0h1m10 0h1m11 0h1m-43 1h1m4 0h1m3 0h1m1 0h1m2 0h1m1 0h1m21 0h1m-48 1h1m8 0h1m6 0h1m1 0h1m1 0h1m-3 1h1m29 0h1m-63 1h1m29 0h2m28 0h1m1 0h1m16 0h1m-19 1h1m20 1h1m-54 2h1m51 1h1m3 0h1m-57 1h1m27 0h1m-10 1h1m6 0h1m9 0h1m14 0h1m-73 1h1m2 0h1m23 0h1m-13 1h1m47 0h1m15 0h1m-3 1h1m-9 1h1m11 2h1m-8 2h1m1 1h1m7 0h1"/><path stroke="rgb(223,223,223)" d="M0 0.5m33 243h1m1 1h1m-1 1h1m227 2h1m-3 1h1m-2 1h1m-2 1h1m-218 2h2m421 0h3m-7 1h1m7 0h1m-12 1h3m9 0h2m-15 1h1m13 0h1m-204 1h1m203 0h2m-216 1h1m9 0h1m188 0h1m15 0h1m-442 1h1m11 0h1m213 0h1m9 0h1m188 0h1m15 0h1m-430 1h1m412 0h2m14 0h1m91 0h2m-534 1h1m23 0h1m398 0h3m13 0h1m-439 1h1m1 0h1m418 0h1m105 0h1m-188 1h1m1 0h1m93 0h1m89 0h1m-302 1h1m113 0h2m4 0h1m79 0h1m2 0h1m-419 1h1m222 0h1m112 0h1m83 0h3m1 0h2m90 0h1m9 0h1m-511 1h1m320 0h1m-351 1h3m4 0h1m4 0h1m216 0h1m5 0h1m104 0h1m9 0h1m187 0h1m-533 1h1m222 0h1m4 0h1m299 0h1m-509 1h1m203 0h1m107 0h1m12 0h1m-350 1h1m8 0h3m218 0h1m-232 2h1m13 0h4m319 0h1m-320 1h1m318 0h1m12 0h1m-345 1h1m4 0h1m11 0h1m18 0h1m307 0h1m-343 1h1m8 0h1m6 0h1m3 0h1m16 0h1m-37 1h1m13 0h1m3 0h1m1 0h1m11 0h1m4 0h1m2 0h1m2 0h1m285 0h1m10 0h1m-350 1h1m5 0h1m1 0h1m7 0h1m4 0h2m16 0h1m2 0h1m294 0h1m-324 1h1m4 0h1m9 0h1m307 0h1m11 0h1m-351 1h1m4 0h1m3 0h1m13 0h1m19 0h1m295 0h1m10 0h1m-336 1h1m12 0h1m2 0h1m317 0h1m-342 1h1m2 0h1m10 0h2m3 0h1m11 0h1m300 0h3m6 0h1m-341 1h2m4 0h1m2 0h1m4 0h1m8 0h2m1 0h2m7 0h1m297 0h7m-345 1h1m19 0h1m14 0h1m304 0h1m-341 1h1m3 0h2m8 0h1m3 0h1m29 0h1m-48 1h1m5 0h2m29 0h1m-34 1h1m7 0h1m4 0h1m2 0h2m5 0h2m4 0h1m1 0h1m-40 1h1m8 0h1m3 0h1m6 0h1m16 0h1m1 0h1m-28 1h1m2 0h1m13 0h1m4 0h1m14 0h1m3 0h1m1 0h1m-49 1h1m15 0h1m11 0h1m8 0h1m-39 1h1m17 0h1m4 0h2m1 0h1m9 0h1m8 0h1m3 0h1m-49 1h1m12 0h1m2 0h1m17 0h1m3 0h1m2 0h1m2 0h1m-41 1h2m4 0h1m3 0h1m7 0h1m14 0h1m7 0h2m6 0h1m-45 1h1m5 0h1m4 0h1m7 0h1m9 0h1m19 0h1m-59 1h1m3 0h1m1 0h1m2 0h1m10 0h1m2 0h1m1 0h1m4 0h1m15 0h1m5 0h1m-42 1h1m9 0h1m12 0h1m4 0h2m-40 1h1m1 0h1m4 0h1m11 0h1m1 0h1m3 0h1m1 0h1m3 0h1m1 0h1m9 0h1m7 0h1m3 0h1m-55 1h1m8 0h1m2 0h1m4 0h1m5 0h1m1 0h1m9 0h1m5 0h1m4 0h1m1 0h1m3 0h1m-55 1h1m3 0h1m15 0h1m9 0h1m5 0h1m17 0h1m5 0h1m-66 1h1m11 0h1m20 0h1m2 0h1m24 0h1m11 0h1m-69 1h2m1 0h1m3 0h1m5 0h1m6 0h1m3 0h1m5 0h1m7 0h1m3 0h1m1 0h1m7 0h1m-41 1h1m6 0h1m9 0h1m3 0h1m15 0h1m4 0h1m-56 1h1m18 0h1m1 0h1m9 0h1m5 0h1m1 0h1m5 0h1m13 0h1m10 0h1m-78 1h1m14 0h1m6 0h1m8 0h1m3 0h1m2 0h1m10 0h1m38 0h1m-65 1h1m12 0h1m14 0h1m6 0h1m1 0h1m6 0h1m19 0h1m-76 1h1m4 0h1m2 0h2m2 0h1m12 0h1m12 0h1m5 0h1m2 0h1m1 0h1m9 0h1m209 0h1m3 0h1m-270 1h1m7 0h1m5 0h1m4 0h1m5 0h1m15 0h1m4 0h1m7 0h1m1 0h1m205 0h1m7 0h1m-281 1h1m5 0h1m29 0h1m8 0h1m2 0h1m1 0h1m1 0h1m3 0h1m7 0h1m11 0h1m204 0h1m-280 1h1m2 0h1m7 0h1m2 0h1m1 0h1m1 0h1m2 0h1m3 0h1m9 0h1m13 0h1m8 0h1m4 0h1m205 0h1m-258 1h1m7 0h1m3 0h1m14 0h1m6 0h1m1 0h1m5 0h1m5 0h1m3 0h1m-69 1h2m3 0h1m12 0h1m10 0h1m25 0h1m1 0h1m2 0h1m1 0h2m8 0h1m2 0h1m7 0h1m188 0h1m-273 1h1m4 0h1m11 0h1m1 0h1m4 0h1m7 0h1m4 0h1m7 0h1m20 0h1m4 0h1m1 0h1m8 0h2m188 0h1m11 0h1m-260 1h1m1 0h1m3 0h1m10 0h1m21 0h1m207 0h1m11 0h1m-271 1h1m2 0h1m14 0h1m18 0h1m19 0h1m4 0h1m195 0h1m-262 1h2m10 0h2m2 0h2m11 0h1m7 0h1m6 0h1m14 0h1m8 0h1m192 0h1m-262 1h1m9 0h1m4 0h1m13 0h1m8 0h1m4 0h1m8 0h1m10 0h1m199 0h1m-262 1h1m6 0h1m7 0h2m2 0h2m19 0h1m1 0h1m10 0h1m1 0h1m2 0h1m12 0h2m1 0h1m2 0h1m2 0h1m188 0h1m-268 1h1m1 0h1m24 0h1m4 0h1m10 0h1m17 0h1m2 0h1m1 0h1m196 0h3m-255 1h1m5 0h1m1 0h1m1 0h1m2 0h1m3 0h1m3 0h1m2 0h1m-36 1h1m3 0h1m26 0h1m13 0h1m1 0h1m21 0h1m2 0h1m2 0h1m4 0h1m-89 1h1m1 0h1m6 0h1m6 0h1m2 0h2m10 0h1m9 0h1m3 0h1m7 1h2m13 0h1m19 0h1m-86 1h1m6 0h1m5 0h1m2 0h1m5 0h1m1 0h1m11 0h1m11 0h2m6 0h1m1 0h1m5 0h1m2 0h1m12 0h1m3 0h1m1 0h2m-74 1h1m6 0h1m1 0h1m5 0h1m17 0h1m3 0h1m4 0h2m13 0h1m9 0h1m-77 1h1m7 0h1m1 0h1m5 0h1m10 0h1m13 0h1m5 0h1m18 0h1m2 0h1m1 0h2m9 0h1m-70 1h1m3 0h1m5 0h1m1 0h1m22 0h3m3 0h1m5 0h1m4 0h1m1 0h1m3 0h1m1 0h2m7 0h1m-76 1h1m5 0h1m5 0h1m2 0h1m11 0h1m2 0h1m2 0h1m15 0h1m4 0h1m1 0h2m3 0h2m5 0h1m1 0h2m-59 1h1m2 0h1m6 0h1m26 0h2m2 0h1m4 0h1m11 0h1m2 0h1m-67 1h2m13 0h1m3 0h1m13 0h1m5 0h1m1 0h1m30 0h1m-59 1h1m6 0h1m1 0h1m8 0h1m12 0h1m2 0h1m7 0h1m8 0h1m3 0h1m-64 1h1m29 0h1m2 0h1m4 0h1m1 0h1m15 0h1m6 0h1m-65 1h1m15 0h1m16 0h1m1 0h2m8 0h1m11 0h1m5 0h1m2 0h1m-61 1h1m3 0h1m2 0h1m7 0h1m8 0h1m2 0h1m23 0h1m4 0h1m1 0h1m1 0h1m8 0h1m-69 1h1m21 0h1m8 0h2m16 0h1m2 0h1m4 0h1m2 0h1m4 0h1m-69 1h1m11 0h1m1 0h1m3 0h1m2 0h1m7 0h1m1 0h1m1 0h1m17 0h1m4 0h2m11 0h1m-54 1h1m7 0h1m17 0h1m14 0h1m-75 1h1m20 0h1m6 0h1m2 0h1m11 0h1m2 0h3m7 0h2m10 0h2m2 0h1m5 0h1m4 0h1m5 0h1m-76 1h1m5 0h1m9 0h1m1 0h2m2 0h2m1 0h1m12 0h1m4 0h1m26 0h2m1 0h1m3 0h1m-86 1h1m5 0h1m4 0h1m10 0h1m9 0h1m1 0h1m9 0h1m-16 1h1m2 0h1m6 0h1m5 0h3m29 0h1m-80 1h1m15 0h1m9 0h1m7 0h2m1 0h1m41 0h2m4 0h2m-67 1h1m1 0h1m3 0h1m16 0h1m1 0h1m43 0h1m-74 1h2m5 0h1m4 0h1m20 0h1m1 0h2m32 0h1m-61 1h1m1 0h1m2 0h1m6 0h1m12 0h1m30 0h1m4 0h2m3 0h1m-69 1h1m4 0h1m3 0h1m7 0h2m1 0h1m6 0h1m-35 1h1m3 0h1m7 0h1m3 0h1m2 0h1m2 0h1m10 0h1m6 0h2m26 0h2m4 0h1m-82 1h1m12 0h1m6 0h1m21 0h1m4 0h1m29 0h2m-79 1h2m10 0h1m5 0h1m6 0h1m1 0h1m5 0h1m3 0h2m4 0h1m1 0h2m27 0h1m2 0h1m4 0h1m-65 1h1m1 0h1m7 0h1m12 0h1m3 0h1m32 0h1m5 0h1m2 0h1m-79 1h1m6 0h1m17 0h1m5 0h1m1 0h1m36 0h2m-65 1h1m4 0h1m7 0h1m11 0h1m3 0h1m31 0h1m-53 1h1m5 0h1m4 0h1m-15 1h1m56 0h4m2 0h2m1 0h1m-86 1h1m35 0h1m46 0h1m4 0h1m211 0h3m-303 1h1m30 0h1m1 0h1m265 0h1m-272 1h1m5 0h1m9 0h1m-15 1h1m48 0h1m4 0h1m9 0h1m203 0h1m90 0h3m1 0h1m-358 1h1m13 0h2m34 0h1m8 0h1m91 0h1m117 0h1m180 0h1m2 0h1m-470 1h1m26 0h1m1 0h1m2 0h1m34 0h1m7 0h1m96 0h1m193 0h1m8 0h1m89 0h1m5 0h1m-466 1h1m10 0h1m13 0h1m31 0h1m1 0h1m3 0h1m3 0h1m3 0h1m1 0h1m86 0h1m209 0h1m87 0h1m-480 1h1m16 0h1m13 0h1m4 0h1m5 0h1m42 0h1m305 0h1m95 0h1m-410 1h1m1 0h1m1 0h1m1 0h1m7 0h1m200 0h1m-253 1h1m32 0h1m4 0h1m3 0h1m6 0h1m202 0h1m185 0h1m-453 1h1m19 0h2m30 0h1m13 0h1m3 0h1m291 0h1m-362 1h1m8 0h1m10 0h1m4 0h2m2 0h1m6 0h2m18 0h1m15 0h1m82 0h2m109 0h1m4 0h1m83 0h2m-348 1h1m19 0h1m11 0h1m1 0h1m13 0h1m1 0h1m6 0h1m4 0h1m195 0h4m-248 1h1m4 0h1m26 0h1m5 0h1m18 0h1m-79 1h1m3 0h1m6 0h1m8 0h1m12 0h1m11 0h1m6 0h1m-46 1h1m9 0h1m6 0h2m3 0h2m4 0h1m1 0h1m6 0h1m19 0h1m-49 1h1m37 0h1m12 0h1m-36 1h1m6 0h1m3 0h1m32 0h1m-69 1h1m1 0h1m11 0h1m5 0h1m2 0h1m2 0h1m1 0h1m4 0h1m21 0h1m1 0h1m7 0h1m3 0h1m-58 1h1m15 0h1m2 0h2m1 0h1m2 0h1m2 0h1m28 0h1m-64 1h1m2 0h1m32 0h2m19 0h1m8 0h1m-57 1h1m13 0h1m13 0h1m8 0h1m13 0h1m-62 1h1m12 0h1m1 0h2m4 0h1m4 0h1m5 0h3m2 0h1m7 0h1m12 0h1m6 0h1m-41 1h2m6 0h1m7 0h1m7 0h1m5 0h1m11 0h1m-54 1h2m2 0h1m4 0h1m12 0h1m7 0h1m2 0h1m11 0h1m6 0h1m-57 1h1m5 0h1m8 0h1m1 0h1m4 0h1m5 0h1m12 0h1m8 0h1m3 0h1m7 0h1m-64 1h1m2 0h1m2 0h1m8 0h1m10 0h1m4 0h2m7 0h1m3 0h1m3 0h1m-38 1h1m3 0h1m21 0h1m13 0h1m-44 1h1m13 0h1m1 0h1m5 0h1m14 0h1m17 0h1m2 0h1m-65 1h1m5 0h2m6 0h1m31 0h1m16 0h1m5 0h1m-54 1h1m14 0h1m17 0h1m-50 1h1m29 0h1m4 0h1m15 0h1m1 1h1m11 3h1m2 1h1m11 0h1m0 1h1m-5 1h1m-7 1h1m5 0h1"/><path stroke="rgb(212,212,212)" d="M0 0.5m265 248h1m0 1h1m0 2h1m-9 2h1m202 0h2m6 2h1m-14 1h1m13 0h1m-14 2h1m104 2h1m3 0h1m-112 1h3m12 0h1m97 0h1m-303 1h1m188 0h3m1 0h1m109 0h1m-304 1h1m110 0h1m88 0h1m1 0h1m90 0h1m9 0h1m-198 1h1m5 0h1m-120 1h1m111 0h1m188 0h1m0 1h1m-302 1h1m108 0h1m10 0h1m-120 1h1m1 0h1m117 1h1m-1 2h1m-338 3h1m16 0h1m307 0h1m10 0h1m-12 2h1m-1 1h1m0 1h1m8 0h1m-10 1h2m-314 1h1m314 0h6m-309 2h1m-5 5h1m-30 1h1m17 0h1m-26 1h1m20 2h1m7 0h1m18 1h1m11 2h1m-26 1h1m-30 1h2m-2 1h2m23 0h1m-5 1h1m2 0h1m7 0h1m-3 2h1m13 0h3m-18 1h1m7 1h2m-11 1h1m5 0h1m3 0h1m-31 1h1m32 0h1m7 0h1m5 0h1m221 0h3m-247 1h1m13 0h1m1 0h1m224 0h1m-252 1h1m1 0h2m16 0h1m18 0h1m210 0h1m-239 1h1m17 0h1m228 0h1m-247 1h1m22 0h2m211 0h1m9 0h1m-265 1h1m28 0h2m-16 1h1m5 0h2m-2 1h2m2 0h2m5 0h1m3 0h1m7 0h1m4 0h1m-3 1h1m-18 1h1m4 0h1m1 0h1m1 0h2m3 0h1m1 0h2m206 0h1m-217 1h1m1 0h1m222 0h1m-238 1h1m10 0h1m15 0h2m3 0h1m203 0h1m-272 1h1m32 0h1m4 0h2m3 0h1m2 0h1m15 0h1m-44 1h1m16 0h1m2 0h1m5 0h1m4 0h1m9 0h2m5 0h2m-51 1h1m5 0h3m12 0h1m3 0h2m2 0h1m6 0h2m2 0h1m11 0h3m-30 1h1m1 0h1m1 0h1m1 0h2m7 0h3m3 0h1m2 0h1m-26 1h2m2 0h1m2 0h1m3 0h1m1 0h1m22 0h1m-37 1h1m2 0h2m16 0h1m6 0h3m3 0h2m-35 1h1m6 0h1m1 0h1m1 0h1m13 0h1m1 0h1m1 0h1m-44 1h1m8 0h2m8 0h2m3 0h1m5 0h1m5 0h1m2 0h1m1 0h1m1 0h1m5 0h1m-50 1h1m26 0h1m1 0h1m10 0h1m1 0h1m1 0h1m8 0h2m-36 1h1m4 0h3m3 0h1m10 0h1m5 0h2m1 0h1m1 0h1m-34 1h1m2 0h1m7 0h1m1 0h1m11 0h1m5 0h2m1 0h1m-37 1h1m1 0h1m7 0h1m1 0h1m1 0h1m1 0h1m18 0h2m2 0h1m-40 1h1m11 0h1m3 0h1m1 0h1m6 0h1m2 0h2m8 0h1m2 0h1m-66 1h1m4 0h1m15 0h1m1 0h1m2 0h1m1 0h2m2 0h1m3 0h1m2 0h1m3 0h1m1 0h1m7 0h1m7 0h1m2 0h1m-60 1h1m1 0h1m10 0h1m13 0h1m13 0h1m2 0h1m11 0h1m-45 1h2m4 0h1m7 0h1m10 0h1m5 0h1m1 0h1m2 0h2m2 0h1m-32 1h3m5 0h1m2 0h1m1 0h1m-6 1h1m6 0h2m4 0h1m12 0h1m7 0h1m1 0h2m-46 1h1m14 0h1m4 0h1m1 0h1m1 0h3m16 0h1m-44 1h2m2 0h1m4 0h1m3 0h1m25 0h2m-74 1h1m36 0h2m4 0h1m2 0h1m19 0h1m1 0h2m4 0h1m1 0h2m8 0h1m-53 1h1m11 0h1m1 0h1m1 0h1m1 0h1m3 0h2m26 0h2m-53 1h2m2 0h1m13 0h3m14 0h2m11 0h1m-42 1h2m1 0h1m9 0h1m24 0h1m-36 1h1m3 0h2m23 0h1m8 0h1m1 0h1m-44 1h1m3 0h1m6 0h1m32 0h1m-41 1h1m2 0h1m-2 1h1m2 0h1m3 0h1m28 0h1m3 0h1m-44 1h1m3 0h1m11 0h1m-15 1h1m47 0h1m-52 1h1m3 0h1m46 0h1m-55 1h3m7 0h1m4 0h1m1 0h1m26 0h4m3 0h2m-45 1h1m6 0h2m2 0h1m26 0h1m6 0h1m-48 1h1m6 0h2m-3 1h1m7 0h1m27 0h1m-42 1h1m5 0h1m-10 1h1m7 0h1m4 0h1m2 0h1m28 0h1m6 0h1m1 0h1m-47 1h1m1 0h1m41 0h3m3 0h1m214 0h1m-290 1h1m28 0h1m1 0h2m37 0h1m1 0h2m216 0h1m-225 1h2m3 0h1m-42 1h1m1 0h1m1 0h1m31 0h1m4 0h1m212 0h1m88 0h1m6 0h1m92 0h2m-438 1h1m36 0h1m216 0h1m81 0h1m-348 1h2m4 0h2m1 0h1m42 0h1m99 0h1m193 0h1m104 0h1m-452 1h1m1 0h2m1 0h2m1 0h1m33 0h1m5 0h1m209 0h1m6 0h1m80 0h1m97 0h1m-445 1h2m1 0h1m4 0h1m1 0h1m1 0h1m1 0h2m25 0h1m4 0h1m99 0h1m118 0h1m81 0h1m96 0h1m-444 1h1m6 0h2m25 0h1m9 0h1m3 0h1m2 0h1m99 0h1m112 0h1m82 0h1m6 0h1m-350 1h3m5 0h1m1 0h1m6 0h1m9 0h2m2 0h1m1 0h1m13 0h1m97 0h1m112 0h1m83 0h1m4 0h1m97 0h1m-452 1h1m7 0h1m14 0h1m18 0h2m1 0h1m1 0h1m3 0h1m1 0h1m392 0h1m-439 1h1m1 0h2m3 0h1m4 0h1m12 0h1m1 0h1m1 0h1m8 0h1m7 0h2m6 0h1m-45 1h1m20 0h1m3 0h1m11 0h1m2 0h2m-52 1h1m2 0h1m10 0h1m1 0h1m11 0h1m17 0h1m-40 1h2m14 0h1m1 0h1m3 0h1m2 0h1m9 0h1m-39 1h1m3 0h1m3 0h1m3 0h1m7 0h1m4 0h1m8 0h2m2 0h1m6 0h1m-38 1h3m2 0h1m24 0h2m3 0h1m-40 1h1m11 0h1m3 0h1m1 0h1m3 0h1m11 0h1m1 0h1m1 0h1m-39 1h1m1 0h1m9 0h1m1 0h1m5 0h1m8 0h1m14 0h1m-32 1h1m1 0h1m9 0h2m4 0h1m2 0h1m1 0h1m1 0h2m4 0h1m-34 1h1m1 0h1m4 0h1m3 0h2m2 0h1m7 0h1m1 0h2m7 0h2m-35 1h1m7 0h1m8 0h1m16 0h1m-30 1h1m3 0h1m9 0h2m13 0h1m-20 1h1m25 0h1m6 0h1m-59 1h1m24 0h1m27 0h1m-33 1h1m1 0h1m1 0h1m-2 1h2"/><path stroke="rgb(202,202,202)" d="M0 0.5m262 248h3m-4 1h1m-2 1h1m-1 1h1m6 1h1m-1 1h1m196 0h1m3 0h1m-210 1h1m7 0h1m193 0h1m7 0h1m-211 1h1m198 0h1m-200 1h1m210 0h1m-13 1h1m13 0h1m-1 2h1m-214 1h1m7 1h1m202 0h1m91 0h1m-304 1h1m199 0h1m1 0h1m7 0h1m-95 1h3m85 0h1m2 0h1m1 0h1m-209 1h1m5 1h1m113 0h1m188 0h1m-305 1h1m-4 1h3m-2 1h1m106 0h1m10 0h1m-12 1h1m-1 1h1m11 0h1m-13 3h1m10 0h1m-309 1h1m306 2h1m-10 1h1m8 0h1m-349 1h1m339 0h1m0 1h1m5 0h1m-308 3h1m-37 5h1m21 0h1m-22 1h1m21 2h1m11 1h1m7 0h1m-12 3h1m-8 3h1m11 0h1m-17 1h1m36 1h1m8 0h1m-67 1h1m18 0h1m15 2h1m-9 1h1m5 0h1m5 1h2m1 0h1m5 0h1m-41 1h1m25 0h1m5 0h1m7 0h1m13 0h1m217 0h1m-259 1h1m37 0h1m220 0h1m-274 1h1m17 0h1m16 0h1m4 1h1m-15 1h1m247 0h1m-250 2h1m32 0h1m-12 1h1m216 0h1m9 0h1m-231 1h1m3 0h1m6 0h1m217 0h1m-275 1h1m37 0h1m-8 1h1m6 0h1m28 0h1m199 0h1m-222 1h1m20 0h1m-13 2h1m2 0h1m-16 1h1m9 0h2m16 0h1m6 0h1m-42 1h1m9 0h1m17 0h1m-24 1h1m10 0h2m9 0h1m2 0h1m-47 1h1m24 0h1m10 0h1m9 0h2m8 0h1m-41 1h2m19 0h1m7 0h1m15 0h1m-46 1h1m15 0h1m10 0h1m18 0h1m-49 1h1m17 0h2m12 0h1m5 0h1m-32 1h1m19 0h1m6 0h2m1 0h1m1 0h1m8 0h1m-17 1h1m2 0h1m1 0h4m10 0h1m-16 1h2m10 0h1m-20 1h1m5 0h1m9 0h1m-36 1h1m19 0h2m1 0h2m7 0h1m4 0h1m5 0h1m-39 1h1m12 0h1m1 0h1m2 0h1m4 0h1m9 0h1m1 0h1m1 0h1m-34 1h1m27 0h1m1 0h1m-24 1h1m7 0h2m9 0h2m-20 1h1m3 0h1m11 0h1m3 0h2m8 0h1m1 0h1m-28 1h1m5 0h1m17 0h1m-40 1h1m8 0h1m5 0h1m2 0h1m19 0h1m-21 1h1m1 0h1m21 0h1m8 0h1m-41 1h2m-2 1h1m2 0h3m27 0h1m-44 1h1m8 0h1m3 0h3m1 0h1m2 0h1m11 0h1m8 0h1m10 0h1m-41 1h1m23 0h1m-30 1h1m4 0h1m1 0h1m2 0h1m22 0h1m6 0h1m-32 1h1m7 0h1m28 0h1m-41 1h1m2 0h1m29 0h2m9 0h1m-60 1h1m11 0h2m5 0h1m2 0h1m1 0h1m6 0h1m19 0h1m-34 1h1m1 0h1m30 0h1m-28 1h1m4 0h1m-13 1h1m4 0h2m22 0h1m3 0h1m2 0h1m3 0h1m-45 1h1m15 0h1m24 0h1m3 0h1m-33 1h1m2 0h1m2 0h1m27 0h1m6 0h1m-59 1h1m19 0h1m24 0h1m-34 1h1m33 0h1m-36 1h2m3 0h1m253 0h1m-222 1h1m2 0h2m-38 1h1m4 0h1m34 0h2m-48 1h1m2 0h1m3 0h1m4 0h1m22 0h1m5 0h1m2 0h1m103 0h1m199 0h1m4 0h1m-341 1h1m22 0h1m7 0h1m102 0h1m-140 1h1m3 0h2m9 0h1m12 0h1m5 0h1m4 0h2m1 0h1m214 0h1m89 0h1m-358 1h1m12 0h1m2 0h1m131 0h1m5 0h1m-136 1h2m1 0h1m14 0h1m3 0h1m8 0h1m103 0h1m202 0h1m-356 1h1m12 0h1m437 0h1m-435 1h1m3 0h1m7 0h2m7 0h1m4 0h1m5 0h1m2 0h1m206 0h1m89 0h1m2 0h1m92 0h1m-419 1h2m4 0h2m6 0h1m10 0h1m210 0h1m186 0h1m-430 1h1m27 0h1m1 0h1m9 0h1m-54 1h1m13 0h1m13 0h3m1 0h1m5 0h2m1 0h3m-34 1h1m2 0h1m3 0h1m11 0h1m3 0h1m4 0h1m8 0h1m-38 1h1m2 0h1m5 0h1m1 0h1m11 0h2m1 0h1m9 0h2m-42 1h1m6 0h3m1 0h2m12 0h1m4 0h2m8 0h2m-39 1h1m11 0h2m5 0h1m17 0h1m-20 1h1m5 0h1m2 0h1m8 0h1m-33 1h1m3 0h1m7 0h1m4 0h1m5 0h1m4 0h1m-22 1h1m3 0h1m4 0h1m2 0h1m2 0h1m-9 1h3m7 0h1m-29 1h1m22 1h1m8 0h1m1 0h1m19 0h1m-15 5h1"/><path stroke="rgb(191,191,191)" d="M0 0.5m265 249h1m0 1h1m-7 2h1m204 1h1m1 0h1m-201 2h1m191 0h2m-202 2h1m211 0h1m-213 1h1m212 0h1m-14 2h1m11 0h1m92 0h1m-306 1h1m199 0h1m108 0h1m-8 1h1m7 0h1m-106 1h2m-92 1h1m3 0h1m182 0h1m-301 2h1m118 0h1m182 0h1m4 0h1m-198 1h1m9 5h1m-11 4h1m7 1h1m-7 1h1m5 0h1m-6 1h5m-300 5h1m-14 16h1m17 4h1m227 1h1m-240 2h1m236 0h1m-227 1h1m-11 1h1m234 0h1m-1 1h1m9 0h1m-11 1h1m9 0h1m-240 1h1m10 0h1m1 0h1m-14 1h1m229 0h1m-211 1h1m216 0h1m-238 1h1m2 0h1m12 0h1m15 0h1m199 0h2m2 0h1m-226 1h1m4 0h1m2 1h1m2 0h1m-38 1h1m31 0h1m12 2h1m-15 1h1m27 0h1m-17 1h1m16 1h1m-28 1h1m27 0h1m-19 1h3m2 0h1m4 0h1m-18 2h1m8 0h1m4 0h1m13 0h1m-12 1h1m10 0h1m2 0h1m-38 1h1m19 0h2m1 0h1m8 0h1m-54 1h1m16 0h1m13 0h1m5 0h1m8 0h1m3 0h1m6 0h1m-26 1h1m1 0h1m5 0h2m4 0h1m-15 1h1m8 0h1m6 0h1m-6 1h1m11 0h2m2 0h1m-19 1h1m5 0h1m3 0h1m3 0h2m4 0h1m3 0h1m-24 1h1m3 0h1m8 0h1m1 0h1m-19 1h1m2 0h1m9 0h1m-22 1h1m4 0h1m4 0h1m18 0h2m-39 1h1m19 0h1m9 0h1m6 0h2m3 0h1m-32 1h1m8 0h1m8 0h1m5 0h1m11 0h1m-13 1h1m-23 1h1m4 0h1m3 0h1m16 0h1m-36 1h1m36 0h2m2 0h1m-32 1h1m3 0h1m3 0h1m2 0h1m2 0h1m19 0h2m-32 1h1m29 0h1m-31 1h1m4 0h1m24 0h1m-28 1h3m-3 1h1m3 0h1m2 0h1m16 0h1m5 0h1m1 0h1m-27 1h1m22 0h1m-30 1h1m3 0h1m24 0h1m2 0h1m1 0h1m-47 1h1m1 0h1m8 0h3m5 0h2m-19 1h1m3 0h1m4 0h4m33 0h1m-40 1h1m5 0h4m26 0h1m1 0h1m1 0h1m-39 1h1m1 0h1m1 0h1m2 0h2m24 0h2m1 0h2m221 0h1m-253 1h3m24 0h1m2 0h2m217 0h1m-250 1h1m1 0h2m12 0h1m10 0h2m4 0h1m220 0h1m-256 1h1m3 0h2m21 0h1m2 0h1m111 0h1m197 0h1m1 0h2m-345 1h1m5 0h1m20 0h1m5 0h2m215 0h1m95 0h1m91 0h1m3 0h1m-437 1h1m26 0h1m216 0h1m88 0h1m97 0h1m-433 1h1m9 0h1m14 0h1m2 0h1m5 0h1m307 0h1m95 0h1m-441 1h1m1 0h1m9 0h1m13 0h1m-17 1h1m15 0h2m3 0h1m104 0h1m206 0h1m-355 1h1m17 0h2m15 0h2m313 0h2m-348 1h2m9 0h1m244 0h1m186 0h3m-432 1h1m8 0h2m9 0h1m-19 1h1m7 0h1m4 0h1m7 0h2m1 0h2m6 0h1m-34 1h1m6 0h2m1 0h3m7 0h1m5 0h1m-24 1h1m3 0h1m19 0h3m-20 1h1m4 0h1m5 0h2m16 0h1m-15 1h1m8 0h1m-36 1h1m6 0h1m13 0h2m1 0h1m-17 1h1m6 1h1m1 0h1m2 0h1m5 0h1m3 0h1m-21 1h1m5 1h1m12 0h1m-10 1h1m1 3h1m30 0h1"/><path stroke="rgb(181,181,181)" d="M0 0.5m266 251h1m199 2h1m2 2h1m-203 1h1m190 0h1m-192 1h1m202 0h1m-204 1h1m-9 1h1m7 0h1m191 0h1m-193 1h1m202 0h1m94 0h2m-107 1h1m1 1h1m3 0h1m1 0h1m100 1h1m-304 1h1m302 0h1m-191 1h1m-118 1h1m1 0h1m107 0h1m191 0h1m1 0h2m-188 1h1m0 2h1m-1 1h1m-12 1h1m10 0h1m-12 1h1m0 2h1m-1 1h1m8 0h1m-9 2h1m5 1h1m-63 27h1m-6 1h1m6 1h1m-230 7h1m221 0h1m-222 1h1m223 0h2m-218 5h1m13 0h2m-2 1h1m-23 2h1m9 0h2m7 1h2m12 0h1m-14 2h2m3 0h1m12 2h1m-12 1h1m1 0h1m-12 1h1m6 0h1m2 0h1m8 0h1m-2 1h1m5 0h1m-25 1h1m9 0h1m1 0h1m2 0h1m1 0h1m6 0h2m-30 2h1m6 0h1m0 1h1m19 0h1m-36 2h1m21 0h1m-4 1h1m9 0h1m1 0h1m2 0h1m6 0h1m-30 1h1m24 0h2m2 0h1m4 0h1m-26 1h1m2 0h1m21 0h1m-12 1h1m1 0h2m6 0h1m1 0h1m-35 1h1m2 0h1m1 0h3m10 0h2m6 0h1m4 0h1m-38 1h1m12 0h1m8 0h1m10 0h1m1 0h1m-26 1h1m2 0h1m8 0h1m12 0h1m-24 1h1m6 1h2m19 0h1m2 0h1m-7 1h1m-22 1h2m1 0h1m15 0h2m3 0h1m-28 1h1m3 0h1m1 0h1m3 0h1m4 0h1m12 0h1m5 0h1m-6 1h2m4 0h3m0 1h1m-27 1h1m24 0h1m-32 1h1m2 0h1m2 0h1m19 0h1m225 0h1m-236 1h1m-13 1h1m27 0h1m4 1h1m101 0h1m200 0h1m-314 1h2m309 0h1m100 0h1m-435 1h1m2 0h1m3 0h1m1 0h1m13 0h2m-25 1h1m5 0h2m7 0h1m18 0h1m297 0h1m-327 1h1m12 0h1m5 0h1m3 0h1m303 0h1m102 0h1m-430 1h1m17 0h1m218 0h1m4 0h1m84 0h1m95 0h1m-418 1h1m119 0h1m1 0h1m-119 1h1m5 0h1m222 0h2m-244 1h1m10 0h1m11 0h2m-33 1h1m13 0h1m9 0h1m-16 1h1m11 0h1m2 0h1m2 0h1m4 1h1m1 0h1m-10 1h1m5 0h2m-3 1h1m1 1h1m-5 1h1m-4 1h1m2 0h1m9 0h1m-27 1h1m9 1h1m37 5h1"/><path stroke="rgb(170,170,170)" d="M0 0.5m262 249h3m197 5h2m4 0h1m-8 1h1m-3 1h1m-1 2h1m11 0h1m-1 1h1m-11 2h1m7 0h1m93 0h1m-101 1h1m1 0h1m1 0h1m-208 1h1m300 0h1m-185 1h1m-117 1h1m3 0h1m107 0h1m188 0h1m-300 1h1m115 0h1m185 0h1m-195 2h1m8 0h1m-1 6h1m-7 4h1m2 0h1m-65 27h1m1 0h1m1 1h1m-8 2h1m6 5h1m-199 15h1m0 1h1m-2 1h1m2 0h1m-18 1h1m7 0h1m5 0h1m4 0h1m-12 1h2m2 0h1m3 0h1m2 0h1m4 0h1m-14 1h1m1 0h1m3 0h1m1 1h1m6 0h1m-19 1h1m5 0h1m1 0h1m3 0h1m-14 1h1m4 0h2m2 0h1m2 0h1m3 0h1m4 0h1m2 0h1m-8 1h2m2 0h1m3 0h1m-23 1h1m5 0h1m-4 1h2m9 0h3m1 0h1m-19 1h1m3 0h2m2 0h1m2 0h1m1 0h1m8 0h1m1 0h1m-19 1h1m7 0h1m11 0h1m1 0h1m-25 1h2m-3 1h1m1 0h1m17 0h1m2 0h1m2 0h1m-3 1h1m-20 1h1m19 0h1m3 0h1m-27 1h1m-11 1h1m8 0h2m16 0h1m4 0h1m-17 1h1m14 0h1m-4 1h1m1 1h1m3 0h1m3 0h1m1 0h1m-30 1h2m22 0h3m-30 1h1m10 0h1m9 0h1m5 0h1m-3 1h1m2 0h1m4 0h1m-32 1h1m12 0h1m12 0h1m2 0h1m1 0h1m224 0h1m-257 1h1m28 0h1m222 0h1m-244 1h2m13 0h1m5 0h1m4 0h2m106 0h1m108 0h1m4 0h1m-225 1h1m110 0h1m201 0h1m-319 1h1m4 0h1m106 0h1m200 0h1m5 0h1m-343 1h1m5 0h1m12 0h1m3 0h2m-21 1h1m21 0h1m220 0h1m94 0h1m90 0h1m-432 1h4m2 0h1m3 0h1m11 0h1m316 0h1m-330 1h4m20 0h1m214 0h1m-244 1h2m3 0h1m5 0h1m4 0h2m1 1h1m1 0h1m3 0h1m-22 1h1m1 0h2m2 0h1m3 0h1m-12 1h1m9 0h1m9 0h1m-9 3h1m6 0h1m-13 1h1m17 1h1m-15 1h1m11 1h1"/><path stroke="rgb(159,159,159)" d="M0 0.5m261 250h1m3 0h1m0 2h1m-7 1h1m204 1h3m-8 2h1m8 0h1m-11 1h1m10 2h1m-11 1h1m106 1h1m-308 1h1m203 0h1m97 0h1m-188 2h1m2 1h1m0 11h1m-2 1h1m-3 1h1m-63 27h1m3 3h1m-9 4h1m1 2h1m-191 15h1m-12 2h1m0 1h1m8 1h1m1 0h1m-12 1h2m9 0h1m4 0h1m-7 2h2m1 0h1m5 0h2m-12 1h1m14 0h1m-19 1h2m12 0h1m3 0h1m-1 1h2m-22 1h1m14 0h1m9 0h1m-25 1h1m2 0h1m1 0h2m4 0h1m2 0h1m6 0h1m-23 2h1m25 0h1m-27 1h1m4 0h1m3 0h1m6 0h1m5 0h1m1 0h1m-14 1h1m13 0h1m2 0h1m-16 1h1m9 0h1m2 0h1m-21 2h1m3 0h1m5 0h1m-14 1h2m5 0h1m13 0h2m-19 1h1m14 0h1m11 0h1m-24 1h1m-10 1h1m6 0h1m13 0h1m7 0h1m4 0h1m-35 1h1m11 0h1m24 0h1m-7 1h1m224 0h1m-253 1h2m7 0h1m7 0h1m1 0h1m3 0h1m3 0h1m-21 1h1m1 1h1m21 0h1m3 0h1m220 0h1m183 0h1m-424 1h1m4 0h1m1 0h1m417 0h1m-435 1h2m7 0h1m2 0h1m10 0h1m308 0h1m5 0h1m90 0h1m-422 1h1m3 0h1m1 0h1m-8 1h1m9 0h2m116 0h1m-137 1h1m4 0h1m10 0h2m7 0h1m1 0h1m106 0h1m300 0h1m-416 1h1m4 0h1m3 0h1m3 0h1m-23 1h1m2 0h1m2 0h1m11 0h1m-26 1h1m3 0h1m7 0h2m9 1h1m1 0h1m-22 1h1m12 0h1m11 1h1m-10 1h2m2 0h1m-12 2h1"/><path stroke="rgb(149,149,149)" d="M0 0.5m264 250h1m-4 1h1m-2 3h1m203 0h1m-205 1h1m208 2h1m0 1h1m-2 2h1m98 2h1m-303 1h1m109 1h1m191 1h1m-197 2h1m6 0h1m-9 2h1m8 0h1m-10 4h1m8 0h1m-9 3h1m0 1h1m1 1h1m-60 28h1m-7 3h1m7 3h1m-8 1h1m4 1h1m-194 17h1m-13 1h1m4 0h1m2 0h1m-9 1h2m6 0h2m1 2h1m1 0h1m3 0h1m-10 1h1m-8 1h1m9 0h1m3 0h1m1 0h1m-14 2h2m3 0h1m3 0h1m-1 1h1m5 0h1m3 0h1m1 0h1m3 0h1m-25 1h1m1 0h1m20 0h1m-18 1h1m2 0h1m1 1h1m1 0h1m7 1h1m-16 1h1m-1 1h1m3 0h1m9 0h1m4 0h1m-19 1h1m2 0h1m3 0h1m1 0h1m4 0h1m-13 1h1m7 0h1m4 0h1m-6 1h1m12 0h1m-25 1h1m11 0h2m4 0h1m3 0h1m-24 1h1m3 0h1m6 0h1m12 0h1m-14 1h1m15 0h1m-27 1h1m4 0h1m4 0h2m9 0h1m-21 1h1m3 0h1m16 0h3m-17 1h1m6 0h2m-7 1h2m14 0h1m3 0h1m-24 1h2m17 0h1m113 0h1m200 0h1m97 0h1m-420 1h1m5 0h1m229 0h1m-236 1h1m4 0h1m5 0h1m218 0h1m4 0h1m-246 1h1m13 0h1m2 0h1m110 0h1m116 0h1m84 0h1m-332 1h2m7 0h1m1 0h1m11 0h1m308 0h1m1 0h1m97 0h1m-191 1h1m185 0h1m-423 1h1m1 0h1m12 0h1m-17 1h1m7 0h1m8 0h1m6 0h2m-20 1h1m4 1h1m-1 1h1"/><path stroke="rgb(138,138,138)" d="M0 0.5m265 251h1m0 2h1m201 2h1m-209 1h1m200 0h1m-202 1h1m199 2h1m0 1h1m-202 1h1m201 0h1m5 0h1m-203 1h1m-6 2h1m2 1h1m106 5h1m8 0h1m-10 1h1m8 0h1m-10 1h1m8 0h1m-2 3h1m-68 31h1m-2 1h1m6 2h1m-9 1h1m-1 1h1m-188 18h1m-1 1h1m-19 4h1m12 1h1m4 0h1m-1 2h1m3 0h1m4 0h1m-13 1h1m1 0h1m10 0h1m3 0h1m-17 1h1m1 0h1m-2 1h1m2 0h1m9 0h1m-10 1h1m3 0h1m-13 1h1m11 0h1m4 0h1m-12 1h1m-3 1h2m7 0h1m9 0h1m-18 1h2m11 0h1m1 0h1m-12 1h1m3 0h1m5 0h1m-3 1h1m-9 1h1m14 0h1m-19 1h1m5 0h1m2 0h2m2 0h1m5 0h1m-12 1h1m-5 1h2m2 0h1m-8 1h2m16 0h1m-14 1h1m13 0h2m-25 1h1m5 0h1m246 0h2m-243 1h1m2 1h3m4 0h1m0 1h1m227 0h1m91 0h2m-337 1h2m3 0h1m5 0h1m3 0h1m5 0h1m113 0h1m201 0h1m-335 1h2m3 0h1m122 0h1m-121 1h1m3 0h1m321 0h1m-322 1h1m230 0h1m87 0h1m-90 1h1m184 0h3m-415 5h1"/><path stroke="rgb(128,128,128)" d="M0 0.5m262 250h2m-3 2h1m4 2h1m195 1h1m4 0h1m-8 2h1m-201 1h1m199 0h1m8 0h1m-1 1h1m-210 1h1m5 1h1m196 0h2m1 0h2m96 0h1m1 0h1m-302 3h1m296 0h1m-301 1h1m111 0h1m2 0h1m-5 1h1m4 0h1m-7 2h1m6 0h1m-8 7h1m5 1h1m-2 1h1m-61 30h1m0 3h1m-1 1h1m-6 3h1m-194 23h1m3 0h1m-2 1h2m2 1h1m-1 1h1m-3 1h1m11 0h1m2 0h1m-20 1h1m4 0h1m4 0h1m2 0h1m5 0h1m-18 1h1m6 0h1m-3 1h3m2 0h1m-13 1h1m7 0h1m1 0h1m2 0h1m3 0h1m1 0h1m1 0h1m-18 1h1m1 0h1m2 0h2m5 0h1m2 0h1m2 0h1m-11 1h2m4 0h2m-7 1h1m1 1h2m-10 1h1m3 0h1m3 0h2m1 0h1m-14 1h1m4 0h1m3 0h1m2 0h2m1 0h2m-12 1h1m3 0h1m-8 1h1m11 0h1m7 0h1m-16 1h1m5 0h1m3 0h1m4 0h1m-17 1h2m2 0h1m6 0h1m230 0h1m2 0h1m-235 1h1m-12 1h1m3 0h3m325 0h1m-332 1h2m8 0h1m3 0h1m225 0h1m186 0h1m-415 1h1m4 0h1m412 0h1m-426 1h2m2 0h1m420 0h1m-425 1h1m1 0h1m1 0h2m414 0h1m-186 1h1m-238 2h2m9 4h1"/><path stroke="rgb(117,117,117)" d="M0 0.5m265 252h1m0 3h1m199 0h1m-201 1h1m201 0h1m-203 1h1m-7 2h1m200 0h1m6 0h1m-1 1h1m-4 1h1m99 0h1m-3 1h1m-303 1h1m300 0h1m5 0h1m-1 1h1m-306 1h1m299 0h1m-192 9h1m1 3h1m-60 29h1m0 7h1m-3 1h2m-191 23h1m5 0h1m-7 1h1m-4 1h1m2 0h1m2 0h1m-5 2h1m2 1h1m4 1h1m3 0h1m3 0h1m-17 1h1m9 0h3m-9 1h1m3 0h2m2 0h1m-9 2h2m1 1h1m5 0h1m-8 1h1m12 0h1m-13 1h1m10 0h1m-3 1h1m-13 1h1m4 0h1m7 0h1m3 0h1m-16 2h1m-2 1h1m17 0h1m-14 1h1m1 0h1m3 0h1m5 0h1m-13 1h1m4 0h1m2 0h3m1 0h1m316 1h1m99 0h1m-417 1h1m117 0h1m197 0h1m3 0h1m-332 1h1m9 0h1m118 0h1m198 0h1m1 0h1m-328 1h1m122 0h1m111 0h1m-220 1h1"/><path stroke="rgb(106,106,106)" d="M0 0.5m264 251h1m198 4h3m-4 1h1m-2 1h1m6 0h1m-203 1h1m194 0h1m6 0h1m-203 1h1m-1 1h1m195 0h1m-88 5h2m190 0h1m-195 2h1m4 0h1m0 2h1m-1 5h1m-67 32h1m-3 2h1m-1 4h1m5 0h1m-6 1h1m-193 23h1m6 5h1m-4 1h1m7 0h2m-6 1h1m5 0h2m-9 1h1m2 1h1m4 0h1m-3 1h1m-7 1h1m3 0h1m3 1h1m-8 1h2m12 0h1m-14 1h2m-3 1h1m5 0h1m8 0h2m-11 1h1m1 0h1m-3 1h1m3 0h2m1 0h1m-13 1h1m1 0h1m5 0h1m4 1h1m3 0h1m1 0h1m-8 1h2m4 0h1m226 0h1m2 0h1m-243 1h1m5 0h1m5 0h1m115 0h2m-125 1h1m-1 1h1m324 1h1m94 0h1m-297 1h1"/><path stroke="rgb(96,96,96)" d="M0 0.5m262 251h1m-2 2h1m205 7h1m-207 2h1m305 0h1m-303 1h1m-2 1h1m109 2h1m2 0h1m-6 3h1m-1 2h1m-1 1h1m-1 1h1m0 3h1m1 1h2m-63 29h1m-192 36h1m7 1h1m1 0h1m1 3h1m-1 1h1m-6 1h1m5 0h1m6 2h1m-8 1h1m0 1h2m4 0h1m-9 1h1m-4 1h1m5 0h1m2 0h1m2 1h1m230 0h1m-241 1h1m-3 1h1m128 1h1m203 0h1m-326 1h1m324 0h1m93 0h1m-187 1h1m2 0h1m-2 1h1m184 0h1m1 0h1"/><path stroke="rgb(85,85,85)" d="M0 0.5m263 251h1m1 2h1m-5 1h1m205 2h1m-6 1h1m-1 1h1m-1 1h1m0 1h3m-204 4h1m301 1h1m1 0h1m-191 1h1m-4 2h1m4 0h1m-7 2h1m6 0h1m-1 3h1m-2 2h1m-2 1h1m-66 31h1m3 0h1m0 1h1m-7 1h1m-178 37h1m1 7h2m4 0h1m-8 1h2m-2 1h1m240 0h1m-237 2h1m236 0h1m-1 1h1m86 0h2m95 0h2m-186 1h1m86 0h2m97 0h1m-1 1h1m-301 1h1m111 0h1m186 0h1"/><path stroke="rgb(74,74,74)" d="M0 0.5m262 252h1m1 0h1m-4 3h1m201 1h4m-4 1h1m3 0h1m-1 1h1m-1 1h1m-2 1h1m-206 1h1m3 1h1m297 2h1m1 1h1m-191 1h1m-2 1h1m3 2h1m0 2h1m-1 1h1m-7 3h1m-63 36h1m5 0h1m-5 2h1m1 0h1m-187 35h1m7 3h1m4 1h1m-1 2h1m231 3h1m-1 2h1m-113 1h1"/><path stroke="rgb(64,64,64)" d="M0 0.5m265 254h1m-5 2h1m202 1h1m-2 1h1m-1 1h1m-199 2h1m298 1h1m-303 1h1m1 0h1m298 0h1m-301 1h1m303 0h1m-191 3h1m-5 2h1m-1 5h1m0 2h1m-62 31h1m1 0h1m1 2h1m-7 1h1m5 0h1m-6 2h1m3 0h1m-3 1h1m60 43h1m-112 2h1m-3 1h1m113 1h1m184 0h1"/><path stroke="rgb(53,53,53)" d="M0 0.5m263 252h1m-2 1h1m1 0h1m0 2h1m-1 1h1m-5 1h1m3 0h1m199 0h2m-206 1h1m202 0h1m1 0h1m-206 1h1m202 0h3m-206 1h1m3 0h1m-4 2h1m1 0h1m301 0h1m-304 1h1m303 0h1m-193 4h2m-3 1h1m2 0h1m-5 2h1m-1 1h1m-1 1h1m-1 1h1m4 1h1m-4 2h2m-63 31h1m-3 1h1m63 48h1m-114 2h1m110 0h1m186 1h2m-299 1h1m110 0h1m186 0h1"/><path stroke="rgb(42,42,42)" d="M0 0.5m262 254h1m2 4h1m199 0h1m-201 1h1m-2 2h1m-2 1h1m301 0h1m-188 8h1m-1 3h1m-5 2h1m2 0h1m-62 33h1m-5 3h1m0 1h1m62 45h1m-113 2h1m111 0h1"/><path stroke="rgb(32,32,32)" d="M0 0.5m263 253h1m0 1h1m-3 1h1m-1 6h2m300 3h1m-190 4h2m-3 1h1m2 0h1m-4 1h1m-1 1h1m3 0h1m-1 1h1m-5 2h1m2 0h1m-3 1h2m-64 33h1m-2 1h1m3 2h1m-3 1h2m59 45h1m0 1h1m-2 1h1m-113 1h1"/><path stroke="rgb(21,21,21)" d="M0 0.5m263 254h1m0 1h1m-3 1h1m-1 2h1m-1 1h1m-1 1h1m1 0h1m299 3h1m1 0h1m-2 1h2m-192 5h2m0 1h1m-4 2h1m2 0h1m-4 1h1m2 0h1m-3 1h2m-63 34h2m0 1h1m-5 1h1m3 0h1m-4 1h1m1 0h1m59 47h1m-113 1h1"/><path stroke="rgb(11,11,11)" d="M0 0.5m263 255h1m-1 1h2m-3 1h1m1 0h1m-2 1h2m-2 1h2m-2 1h1m301 3h1m-191 7h2m-2 1h3m-3 1h2m-2 1h2m-64 36h3m-3 1h3m-2 1h1"/><path stroke="rgb(0,0,0)" d="M0 0.5m263 257h1"/></g>
<g stroke="#d5d5d5" stroke-width="0.9"><line x1="53.60" y1="12.4" x2="53.60" y2="146.8"/><line x1="90.30" y1="12.4" x2="90.30" y2="146.8"/><line x1="127.00" y1="12.4" x2="127.00" y2="146.8"/><line x1="163.70" y1="12.4" x2="163.70" y2="146.8"/><line x1="200.40" y1="12.4" x2="200.40" y2="146.8"/><line x1="27" y1="141.40" x2="208" y2="141.40"/><line x1="27" y1="118.18" x2="208" y2="118.18"/><line x1="27" y1="94.96" x2="208" y2="94.96"/><line x1="27" y1="71.74" x2="208" y2="71.74"/><line x1="27" y1="48.52" x2="208" y2="48.52"/><line x1="27" y1="25.30" x2="208" y2="25.30"/></g>
<polyline fill="none" stroke="#1f77b4" stroke-width="1.3" points="35.25,43.18 53.60,45.04 71.95,108.20 90.30,123.06 108.65,116.55 127.00,110.52 145.35,121.20 163.70,120.73 182.05,121.66 200.40,120.73"/>
<circle cx="35.25" cy="43.18" r="2.3" fill="#1f77b4" fill-opacity="0.7" stroke="#1f77b4" stroke-opacity="0.9" stroke-width="0.8"/><circle cx="53.60" cy="45.04" r="2.3" fill="#1f77b4" fill-opacity="0.7" stroke="#1f77b4" stroke-opacity="0.9" stroke-width="0.8"/><circle cx="71.95" cy="108.20" r="2.3" fill="#1f77b4" fill-opacity="0.7" stroke="#1f77b4" stroke-opacity="0.9" stroke-width="0.8"/><circle cx="90.30" cy="123.06" r="2.3" fill="#1f77b4" fill-opacity="0.7" stroke="#1f77b4" stroke-opacity="0.9" stroke-width="0.8"/><circle cx="108.65" cy="116.55" r="2.3" fill="#1f77b4" fill-opacity="0.7" stroke="#1f77b4" stroke-opacity="0.9" stroke-width="0.8"/><circle cx="127.00" cy="110.52" r="2.3" fill="#1f77b4" fill-opacity="0.7" stroke="#1f77b4" stroke-opacity="0.9" stroke-width="0.8"/><circle cx="145.35" cy="121.20" r="2.3" fill="#1f77b4" fill-opacity="0.7" stroke="#1f77b4" stroke-opacity="0.9" stroke-width="0.8"/><circle cx="163.70" cy="120.73" r="2.3" fill="#1f77b4" fill-opacity="0.7" stroke="#1f77b4" stroke-opacity="0.9" stroke-width="0.8"/><circle cx="182.05" cy="121.66" r="2.3" fill="#1f77b4" fill-opacity="0.7" stroke="#1f77b4" stroke-opacity="0.9" stroke-width="0.8"/><circle cx="200.40" cy="120.73" r="2.3" fill="#1f77b4" fill-opacity="0.7" stroke="#1f77b4" stroke-opacity="0.9" stroke-width="0.8"/>
<polyline fill="none" stroke="#ff7f0e" stroke-width="1.3" points="35.25,67.56 53.60,77.55 71.95,106.11 90.30,112.84 108.65,106.57 127.00,124.68 145.35,111.68 163.70,124.22 182.05,109.59 200.40,117.02"/>
<circle cx="35.25" cy="67.56" r="2.3" fill="#ff7f0e" fill-opacity="0.7" stroke="#ff7f0e" stroke-opacity="0.9" stroke-width="0.8"/><circle cx="53.60" cy="77.55" r="2.3" fill="#ff7f0e" fill-opacity="0.7" stroke="#ff7f0e" stroke-opacity="0.9" stroke-width="0.8"/><circle cx="71.95" cy="106.11" r="2.3" fill="#ff7f0e" fill-opacity="0.7" stroke="#ff7f0e" stroke-opacity="0.9" stroke-width="0.8"/><circle cx="90.30" cy="112.84" r="2.3" fill="#ff7f0e" fill-opacity="0.7" stroke="#ff7f0e" stroke-opacity="0.9" stroke-width="0.8"/><circle cx="108.65" cy="106.57" r="2.3" fill="#ff7f0e" fill-opacity="0.7" stroke="#ff7f0e" stroke-opacity="0.9" stroke-width="0.8"/><circle cx="127.00" cy="124.68" r="2.3" fill="#ff7f0e" fill-opacity="0.7" stroke="#ff7f0e" stroke-opacity="0.9" stroke-width="0.8"/><circle cx="145.35" cy="111.68" r="2.3" fill="#ff7f0e" fill-opacity="0.7" stroke="#ff7f0e" stroke-opacity="0.9" stroke-width="0.8"/><circle cx="163.70" cy="124.22" r="2.3" fill="#ff7f0e" fill-opacity="0.7" stroke="#ff7f0e" stroke-opacity="0.9" stroke-width="0.8"/><circle cx="182.05" cy="109.59" r="2.3" fill="#ff7f0e" fill-opacity="0.7" stroke="#ff7f0e" stroke-opacity="0.9" stroke-width="0.8"/><circle cx="200.40" cy="117.02" r="2.3" fill="#ff7f0e" fill-opacity="0.7" stroke="#ff7f0e" stroke-opacity="0.9" stroke-width="0.8"/>
<polyline fill="none" stroke="#2ca02c" stroke-width="1.3" points="35.25,56.88 53.60,17.41 71.95,109.12 90.30,119.81 108.65,103.55 127.00,117.25 145.35,121.43 163.70,115.16 182.05,124.22 200.40,126.77"/>
<circle cx="35.25" cy="56.88" r="2.3" fill="#2ca02c" fill-opacity="0.7" stroke="#2ca02c" stroke-opacity="0.9" stroke-width="0.8"/><circle cx="53.60" cy="17.41" r="2.3" fill="#2ca02c" fill-opacity="0.7" stroke="#2ca02c" stroke-opacity="0.9" stroke-width="0.8"/><circle cx="71.95" cy="109.12" r="2.3" fill="#2ca02c" fill-opacity="0.7" stroke="#2ca02c" stroke-opacity="0.9" stroke-width="0.8"/><circle cx="90.30" cy="119.81" r="2.3" fill="#2ca02c" fill-opacity="0.7" stroke="#2ca02c" stroke-opacity="0.9" stroke-width="0.8"/><circle cx="108.65" cy="103.55" r="2.3" fill="#2ca02c" fill-opacity="0.7" stroke="#2ca02c" stroke-opacity="0.9" stroke-width="0.8"/><circle cx="127.00" cy="117.25" r="2.3" fill="#2ca02c" fill-opacity="0.7" stroke="#2ca02c" stroke-opacity="0.9" stroke-width="0.8"/><circle cx="145.35" cy="121.43" r="2.3" fill="#2ca02c" fill-opacity="0.7" stroke="#2ca02c" stroke-opacity="0.9" stroke-width="0.8"/><circle cx="163.70" cy="115.16" r="2.3" fill="#2ca02c" fill-opacity="0.7" stroke="#2ca02c" stroke-opacity="0.9" stroke-width="0.8"/><circle cx="182.05" cy="124.22" r="2.3" fill="#2ca02c" fill-opacity="0.7" stroke="#2ca02c" stroke-opacity="0.9" stroke-width="0.8"/><circle cx="200.40" cy="126.77" r="2.3" fill="#2ca02c" fill-opacity="0.7" stroke="#2ca02c" stroke-opacity="0.9" stroke-width="0.8"/>
<polyline fill="none" stroke="#d62728" stroke-width="1.3" points="71.95,101.93 90.30,106.34 108.65,100.07 127.00,105.18 145.35,108.66 163.70,108.89 182.05,101.46 200.40,109.12"/>
<circle cx="71.95" cy="101.93" r="2.3" fill="#d62728" fill-opacity="0.7" stroke="#d62728" stroke-opacity="0.9" stroke-width="0.8"/><circle cx="90.30" cy="106.34" r="2.3" fill="#d62728" fill-opacity="0.7" stroke="#d62728" stroke-opacity="0.9" stroke-width="0.8"/><circle cx="108.65" cy="100.07" r="2.3" fill="#d62728" fill-opacity="0.7" stroke="#d62728" stroke-opacity="0.9" stroke-width="0.8"/><circle cx="127.00" cy="105.18" r="2.3" fill="#d62728" fill-opacity="0.7" stroke="#d62728" stroke-opacity="0.9" stroke-width="0.8"/><circle cx="145.35" cy="108.66" r="2.3" fill="#d62728" fill-opacity="0.7" stroke="#d62728" stroke-opacity="0.9" stroke-width="0.8"/><circle cx="163.70" cy="108.89" r="2.3" fill="#d62728" fill-opacity="0.7" stroke="#d62728" stroke-opacity="0.9" stroke-width="0.8"/><circle cx="182.05" cy="101.46" r="2.3" fill="#d62728" fill-opacity="0.7" stroke="#d62728" stroke-opacity="0.9" stroke-width="0.8"/><circle cx="200.40" cy="109.12" r="2.3" fill="#d62728" fill-opacity="0.7" stroke="#d62728" stroke-opacity="0.9" stroke-width="0.8"/>
<g stroke="#000" stroke-width="0.8"><line x1="53.60" y1="146.8" x2="53.60" y2="149.60000000000002"/><line x1="90.30" y1="146.8" x2="90.30" y2="149.60000000000002"/><line x1="127.00" y1="146.8" x2="127.00" y2="149.60000000000002"/><line x1="163.70" y1="146.8" x2="163.70" y2="149.60000000000002"/><line x1="200.40" y1="146.8" x2="200.40" y2="149.60000000000002"/><line x1="24.4" y1="141.40" x2="27" y2="141.40"/><line x1="24.4" y1="118.18" x2="27" y2="118.18"/><line x1="24.4" y1="94.96" x2="27" y2="94.96"/><line x1="24.4" y1="71.74" x2="27" y2="71.74"/><line x1="24.4" y1="48.52" x2="27" y2="48.52"/><line x1="24.4" y1="25.30" x2="27" y2="25.30"/></g>
<rect x="27" y="12.4" width="181" height="134.4" fill="none" stroke="#000" stroke-width="1.4"/>
<text x="45.60" y="156.9" font-family="Liberation Serif" font-size="7.6px" fill="#000" stroke="#000" stroke-width="0.1" textLength="12.2" lengthAdjust="spacingAndGlyphs">1.10</text><text x="58.10" y="154.0" font-family="Liberation Serif" font-size="4.8px" fill="#000">4</text>
<text x="82.30" y="156.9" font-family="Liberation Serif" font-size="7.6px" fill="#000" stroke="#000" stroke-width="0.1" textLength="12.2" lengthAdjust="spacingAndGlyphs">2.10</text><text x="94.80" y="154.0" font-family="Liberation Serif" font-size="4.8px" fill="#000">4</text>
<text x="119.00" y="156.9" font-family="Liberation Serif" font-size="7.6px" fill="#000" stroke="#000" stroke-width="0.1" textLength="12.2" lengthAdjust="spacingAndGlyphs">3.10</text><text x="131.50" y="154.0" font-family="Liberation Serif" font-size="4.8px" fill="#000">4</text>
<text x="155.70" y="156.9" font-family="Liberation Serif" font-size="7.6px" fill="#000" stroke="#000" stroke-width="0.1" textLength="12.2" lengthAdjust="spacingAndGlyphs">4.10</text><text x="168.20" y="154.0" font-family="Liberation Serif" font-size="4.8px" fill="#000">4</text>
<text x="192.40" y="156.9" font-family="Liberation Serif" font-size="7.6px" fill="#000" stroke="#000" stroke-width="0.1" textLength="12.2" lengthAdjust="spacingAndGlyphs">5.10</text><text x="204.90" y="154.0" font-family="Liberation Serif" font-size="4.8px" fill="#000">4</text>
<text x="22.3" y="144.00" text-anchor="end" font-family="Liberation Serif" font-size="7.6px" fill="#000" stroke="#000" stroke-width="0.1">0.0</text>
<text x="22.3" y="120.78" text-anchor="end" font-family="Liberation Serif" font-size="7.6px" fill="#000" stroke="#000" stroke-width="0.1">0.1</text>
<text x="22.3" y="97.56" text-anchor="end" font-family="Liberation Serif" font-size="7.6px" fill="#000" stroke="#000" stroke-width="0.1">0.2</text>
<text x="22.3" y="74.34" text-anchor="end" font-family="Liberation Serif" font-size="7.6px" fill="#000" stroke="#000" stroke-width="0.1">0.3</text>
<text x="22.3" y="51.12" text-anchor="end" font-family="Liberation Serif" font-size="7.6px" fill="#000" stroke="#000" stroke-width="0.1">0.4</text>
<text x="22.3" y="27.90" text-anchor="end" font-family="Liberation Serif" font-size="7.6px" fill="#000" stroke="#000" stroke-width="0.1">0.5</text>
<text x="117.50" y="168.1" text-anchor="middle" font-family="Liberation Sans" font-size="9.3px" fill="#111" stroke="#111" stroke-width="0.12" textLength="71" lengthAdjust="spacingAndGlyphs">simulation budget</text>
<text x="117.4" y="8.2" text-anchor="middle" font-family="Liberation Mono" font-size="8.4px" fill="#111">bimodal-AR(2)</text>
<g stroke="#d5d5d5" stroke-width="0.9"><line x1="234.80" y1="12.4" x2="234.80" y2="146.8"/><line x1="271.50" y1="12.4" x2="271.50" y2="146.8"/><line x1="308.20" y1="12.4" x2="308.20" y2="146.8"/><line x1="344.90" y1="12.4" x2="344.90" y2="146.8"/><line x1="381.60" y1="12.4" x2="381.60" y2="146.8"/><line x1="208" y1="141.40" x2="389" y2="141.40"/><line x1="208" y1="118.18" x2="389" y2="118.18"/><line x1="208" y1="94.96" x2="389" y2="94.96"/><line x1="208" y1="71.74" x2="389" y2="71.74"/><line x1="208" y1="48.52" x2="389" y2="48.52"/><line x1="208" y1="25.30" x2="389" y2="25.30"/></g>
<polyline fill="none" stroke="#1f77b4" stroke-width="1.3" points="216.45,98.44 234.80,128.86 253.15,131.65 271.50,133.27 289.85,133.27 308.20,132.58 326.55,131.18 344.90,133.27 363.25,133.04 381.60,132.58"/>
<circle cx="216.45" cy="98.44" r="2.3" fill="#1f77b4" fill-opacity="0.7" stroke="#1f77b4" stroke-opacity="0.9" stroke-width="0.8"/><circle cx="234.80" cy="128.86" r="2.3" fill="#1f77b4" fill-opacity="0.7" stroke="#1f77b4" stroke-opacity="0.9" stroke-width="0.8"/><circle cx="253.15" cy="131.65" r="2.3" fill="#1f77b4" fill-opacity="0.7" stroke="#1f77b4" stroke-opacity="0.9" stroke-width="0.8"/><circle cx="271.50" cy="133.27" r="2.3" fill="#1f77b4" fill-opacity="0.7" stroke="#1f77b4" stroke-opacity="0.9" stroke-width="0.8"/><circle cx="289.85" cy="133.27" r="2.3" fill="#1f77b4" fill-opacity="0.7" stroke="#1f77b4" stroke-opacity="0.9" stroke-width="0.8"/><circle cx="308.20" cy="132.58" r="2.3" fill="#1f77b4" fill-opacity="0.7" stroke="#1f77b4" stroke-opacity="0.9" stroke-width="0.8"/><circle cx="326.55" cy="131.18" r="2.3" fill="#1f77b4" fill-opacity="0.7" stroke="#1f77b4" stroke-opacity="0.9" stroke-width="0.8"/><circle cx="344.90" cy="133.27" r="2.3" fill="#1f77b4" fill-opacity="0.7" stroke="#1f77b4" stroke-opacity="0.9" stroke-width="0.8"/><circle cx="363.25" cy="133.04" r="2.3" fill="#1f77b4" fill-opacity="0.7" stroke="#1f77b4" stroke-opacity="0.9" stroke-width="0.8"/><circle cx="381.60" cy="132.58" r="2.3" fill="#1f77b4" fill-opacity="0.7" stroke="#1f77b4" stroke-opacity="0.9" stroke-width="0.8"/>
<polyline fill="none" stroke="#ff7f0e" stroke-width="1.3" points="216.45,131.42 234.80,139.54 253.15,140.94 271.50,140.01 289.85,140.01 308.20,140.24 326.55,140.70 344.90,139.54 363.25,139.54 381.60,139.77"/>
<circle cx="216.45" cy="131.42" r="2.3" fill="#ff7f0e" fill-opacity="0.7" stroke="#ff7f0e" stroke-opacity="0.9" stroke-width="0.8"/><circle cx="234.80" cy="139.54" r="2.3" fill="#ff7f0e" fill-opacity="0.7" stroke="#ff7f0e" stroke-opacity="0.9" stroke-width="0.8"/><circle cx="253.15" cy="140.94" r="2.3" fill="#ff7f0e" fill-opacity="0.7" stroke="#ff7f0e" stroke-opacity="0.9" stroke-width="0.8"/><circle cx="271.50" cy="140.01" r="2.3" fill="#ff7f0e" fill-opacity="0.7" stroke="#ff7f0e" stroke-opacity="0.9" stroke-width="0.8"/><circle cx="289.85" cy="140.01" r="2.3" fill="#ff7f0e" fill-opacity="0.7" stroke="#ff7f0e" stroke-opacity="0.9" stroke-width="0.8"/><circle cx="308.20" cy="140.24" r="2.3" fill="#ff7f0e" fill-opacity="0.7" stroke="#ff7f0e" stroke-opacity="0.9" stroke-width="0.8"/><circle cx="326.55" cy="140.70" r="2.3" fill="#ff7f0e" fill-opacity="0.7" stroke="#ff7f0e" stroke-opacity="0.9" stroke-width="0.8"/><circle cx="344.90" cy="139.54" r="2.3" fill="#ff7f0e" fill-opacity="0.7" stroke="#ff7f0e" stroke-opacity="0.9" stroke-width="0.8"/><circle cx="363.25" cy="139.54" r="2.3" fill="#ff7f0e" fill-opacity="0.7" stroke="#ff7f0e" stroke-opacity="0.9" stroke-width="0.8"/><circle cx="381.60" cy="139.77" r="2.3" fill="#ff7f0e" fill-opacity="0.7" stroke="#ff7f0e" stroke-opacity="0.9" stroke-width="0.8"/>
<polyline fill="none" stroke="#2ca02c" stroke-width="1.3" points="216.45,114.70 234.80,136.06 253.15,137.45 271.50,139.08 289.85,139.08 308.20,138.50 326.55,140.01 344.90,139.31 363.25,139.31 381.60,139.77"/>
<circle cx="216.45" cy="114.70" r="2.3" fill="#2ca02c" fill-opacity="0.7" stroke="#2ca02c" stroke-opacity="0.9" stroke-width="0.8"/><circle cx="234.80" cy="136.06" r="2.3" fill="#2ca02c" fill-opacity="0.7" stroke="#2ca02c" stroke-opacity="0.9" stroke-width="0.8"/><circle cx="253.15" cy="137.45" r="2.3" fill="#2ca02c" fill-opacity="0.7" stroke="#2ca02c" stroke-opacity="0.9" stroke-width="0.8"/><circle cx="271.50" cy="139.08" r="2.3" fill="#2ca02c" fill-opacity="0.7" stroke="#2ca02c" stroke-opacity="0.9" stroke-width="0.8"/><circle cx="289.85" cy="139.08" r="2.3" fill="#2ca02c" fill-opacity="0.7" stroke="#2ca02c" stroke-opacity="0.9" stroke-width="0.8"/><circle cx="308.20" cy="138.50" r="2.3" fill="#2ca02c" fill-opacity="0.7" stroke="#2ca02c" stroke-opacity="0.9" stroke-width="0.8"/><circle cx="326.55" cy="140.01" r="2.3" fill="#2ca02c" fill-opacity="0.7" stroke="#2ca02c" stroke-opacity="0.9" stroke-width="0.8"/><circle cx="344.90" cy="139.31" r="2.3" fill="#2ca02c" fill-opacity="0.7" stroke="#2ca02c" stroke-opacity="0.9" stroke-width="0.8"/><circle cx="363.25" cy="139.31" r="2.3" fill="#2ca02c" fill-opacity="0.7" stroke="#2ca02c" stroke-opacity="0.9" stroke-width="0.8"/><circle cx="381.60" cy="139.77" r="2.3" fill="#2ca02c" fill-opacity="0.7" stroke="#2ca02c" stroke-opacity="0.9" stroke-width="0.8"/>
<polyline fill="none" stroke="#d62728" stroke-width="1.3" points="253.15,104.25 271.50,97.51 289.85,100.53 308.20,94.03 326.55,88.46 344.90,94.03 363.25,100.30 381.60,98.44"/>
<circle cx="253.15" cy="104.25" r="2.3" fill="#d62728" fill-opacity="0.7" stroke="#d62728" stroke-opacity="0.9" stroke-width="0.8"/><circle cx="271.50" cy="97.51" r="2.3" fill="#d62728" fill-opacity="0.7" stroke="#d62728" stroke-opacity="0.9" stroke-width="0.8"/><circle cx="289.85" cy="100.53" r="2.3" fill="#d62728" fill-opacity="0.7" stroke="#d62728" stroke-opacity="0.9" stroke-width="0.8"/><circle cx="308.20" cy="94.03" r="2.3" fill="#d62728" fill-opacity="0.7" stroke="#d62728" stroke-opacity="0.9" stroke-width="0.8"/><circle cx="326.55" cy="88.46" r="2.3" fill="#d62728" fill-opacity="0.7" stroke="#d62728" stroke-opacity="0.9" stroke-width="0.8"/><circle cx="344.90" cy="94.03" r="2.3" fill="#d62728" fill-opacity="0.7" stroke="#d62728" stroke-opacity="0.9" stroke-width="0.8"/><circle cx="363.25" cy="100.30" r="2.3" fill="#d62728" fill-opacity="0.7" stroke="#d62728" stroke-opacity="0.9" stroke-width="0.8"/><circle cx="381.60" cy="98.44" r="2.3" fill="#d62728" fill-opacity="0.7" stroke="#d62728" stroke-opacity="0.9" stroke-width="0.8"/>
<g stroke="#000" stroke-width="0.8"><line x1="234.80" y1="146.8" x2="234.80" y2="149.60000000000002"/><line x1="271.50" y1="146.8" x2="271.50" y2="149.60000000000002"/><line x1="308.20" y1="146.8" x2="308.20" y2="149.60000000000002"/><line x1="344.90" y1="146.8" x2="344.90" y2="149.60000000000002"/><line x1="381.60" y1="146.8" x2="381.60" y2="149.60000000000002"/><line x1="205.4" y1="141.40" x2="208" y2="141.40"/><line x1="205.4" y1="118.18" x2="208" y2="118.18"/><line x1="205.4" y1="94.96" x2="208" y2="94.96"/><line x1="205.4" y1="71.74" x2="208" y2="71.74"/><line x1="205.4" y1="48.52" x2="208" y2="48.52"/><line x1="205.4" y1="25.30" x2="208" y2="25.30"/></g>
<rect x="208" y="12.4" width="181" height="134.4" fill="none" stroke="#000" stroke-width="1.4"/>
<text x="226.80" y="156.9" font-family="Liberation Serif" font-size="7.6px" fill="#000" stroke="#000" stroke-width="0.1" textLength="12.2" lengthAdjust="spacingAndGlyphs">1.10</text><text x="239.30" y="154.0" font-family="Liberation Serif" font-size="4.8px" fill="#000">4</text>
<text x="263.50" y="156.9" font-family="Liberation Serif" font-size="7.6px" fill="#000" stroke="#000" stroke-width="0.1" textLength="12.2" lengthAdjust="spacingAndGlyphs">2.10</text><text x="276.00" y="154.0" font-family="Liberation Serif" font-size="4.8px" fill="#000">4</text>
<text x="300.20" y="156.9" font-family="Liberation Serif" font-size="7.6px" fill="#000" stroke="#000" stroke-width="0.1" textLength="12.2" lengthAdjust="spacingAndGlyphs">3.10</text><text x="312.70" y="154.0" font-family="Liberation Serif" font-size="4.8px" fill="#000">4</text>
<text x="336.90" y="156.9" font-family="Liberation Serif" font-size="7.6px" fill="#000" stroke="#000" stroke-width="0.1" textLength="12.2" lengthAdjust="spacingAndGlyphs">4.10</text><text x="349.40" y="154.0" font-family="Liberation Serif" font-size="4.8px" fill="#000">4</text>
<text x="373.60" y="156.9" font-family="Liberation Serif" font-size="7.6px" fill="#000" stroke="#000" stroke-width="0.1" textLength="12.2" lengthAdjust="spacingAndGlyphs">5.10</text><text x="386.10" y="154.0" font-family="Liberation Serif" font-size="4.8px" fill="#000">4</text>
<text x="298.50" y="168.1" text-anchor="middle" font-family="Liberation Sans" font-size="9.3px" fill="#111" stroke="#111" stroke-width="0.12" textLength="71" lengthAdjust="spacingAndGlyphs">simulation budget</text>
<text x="298.2" y="8.2" text-anchor="middle" font-family="Liberation Mono" font-size="8.4px" fill="#111">MA(2)</text>
<text transform="translate(8.6,79) rotate(-90)" text-anchor="middle" font-family="Liberation Sans" font-size="9.3px" fill="#111" stroke="#111" stroke-width="0.12" textLength="84" lengthAdjust="spacingAndGlyphs">Wasserstein distance</text>
<rect x="267.7" y="15.6" width="117.5" height="22.7" rx="1.8" fill="#fff" fill-opacity="0.85" stroke="#d8d8d8" stroke-width="0.8"/>
<line x1="269.9" y1="21.7" x2="285.2" y2="21.7" stroke="#1f77b4" stroke-width="1.3"/>
<circle cx="277.59999999999997" cy="21.7" r="2.2" fill="#1f77b4" fill-opacity="0.7" stroke="#1f77b4" stroke-opacity="0.9" stroke-width="0.8"/>
<text x="290.9" y="24.0" font-family="Liberation Sans" font-size="6.6px" fill="#1f77b4">autocorr</text>
<line x1="269.9" y1="31.9" x2="285.2" y2="31.9" stroke="#ff7f0e" stroke-width="1.3"/>
<circle cx="277.59999999999997" cy="31.9" r="2.2" fill="#ff7f0e" fill-opacity="0.7" stroke="#ff7f0e" stroke-opacity="0.9" stroke-width="0.8"/>
<text x="290.9" y="34.199999999999996" font-family="Liberation Sans" font-size="6.6px" fill="#ff7f0e">YuleNet</text>
<line x1="329.3" y1="21.7" x2="344.6" y2="21.7" stroke="#2ca02c" stroke-width="1.3"/>
<circle cx="337.0" cy="21.7" r="2.2" fill="#2ca02c" fill-opacity="0.7" stroke="#2ca02c" stroke-opacity="0.9" stroke-width="0.8"/>
<text x="350.3" y="24.0" font-family="Liberation Sans" font-size="6.6px" fill="#2ca02c">PEN</text>
<line x1="329.3" y1="31.9" x2="344.6" y2="31.9" stroke="#d62728" stroke-width="1.3"/>
<circle cx="337.0" cy="31.9" r="2.2" fill="#d62728" fill-opacity="0.7" stroke="#d62728" stroke-opacity="0.9" stroke-width="0.8"/>
<text x="350.3" y="34.199999999999996" font-family="Liberation Sans" font-size="6.6px" fill="#d62728" textLength="33.3" lengthAdjust="spacingAndGlyphs">PEN+ABC</text>
<g stroke="#111" stroke-width="0.9"><line x1="30.30" y1="404.4" x2="30.30" y2="407.2"/><line x1="68.20" y1="404.4" x2="68.20" y2="407.2"/><line x1="106.10" y1="404.4" x2="106.10" y2="407.2"/><line x1="144.00" y1="404.4" x2="144.00" y2="407.2"/><line x1="181.90" y1="404.4" x2="181.90" y2="407.2"/><line x1="219.80" y1="404.4" x2="219.80" y2="407.2"/><line x1="27.5" y1="404.40" x2="30.3" y2="404.40"/><line x1="27.5" y1="358.37" x2="30.3" y2="358.37"/><line x1="27.5" y1="312.34" x2="30.3" y2="312.34"/><line x1="27.5" y1="266.31" x2="30.3" y2="266.31"/><line x1="27.5" y1="220.28" x2="30.3" y2="220.28"/></g>
<rect x="30.3" y="220.3" width="189.40" height="184.10" fill="none" stroke="#1f77b4" stroke-width="1.5"/>
<text x="24.00" y="417.9" font-family="Liberation Sans" font-size="10.6px" fill="#222" textLength="12.6" lengthAdjust="spacingAndGlyphs">0.0</text>
<text x="61.90" y="417.9" font-family="Liberation Sans" font-size="10.6px" fill="#222" textLength="12.6" lengthAdjust="spacingAndGlyphs">1.0</text>
<text x="99.80" y="417.9" font-family="Liberation Sans" font-size="10.6px" fill="#222" textLength="12.6" lengthAdjust="spacingAndGlyphs">2.0</text>
<text x="137.70" y="417.9" font-family="Liberation Sans" font-size="10.6px" fill="#222" textLength="12.6" lengthAdjust="spacingAndGlyphs">3.0</text>
<text x="175.60" y="417.9" font-family="Liberation Sans" font-size="10.6px" fill="#222" textLength="12.6" lengthAdjust="spacingAndGlyphs">4.0</text>
<text x="213.50" y="417.9" font-family="Liberation Sans" font-size="10.6px" fill="#222" textLength="12.6" lengthAdjust="spacingAndGlyphs">5.0</text>
<text x="11.9" y="408.20" font-family="Liberation Sans" font-size="10.6px" fill="#222" textLength="12.6" lengthAdjust="spacingAndGlyphs">0.0</text>
<text x="11.9" y="362.17" font-family="Liberation Sans" font-size="10.6px" fill="#222" textLength="12.6" lengthAdjust="spacingAndGlyphs">0.5</text>
<text x="11.9" y="316.14" font-family="Liberation Sans" font-size="10.6px" fill="#222" textLength="12.6" lengthAdjust="spacingAndGlyphs">1.0</text>
<text x="11.9" y="270.11" font-family="Liberation Sans" font-size="10.6px" fill="#222" textLength="12.6" lengthAdjust="spacingAndGlyphs">1.5</text>
<text x="11.9" y="224.08" font-family="Liberation Sans" font-size="10.6px" fill="#222" textLength="12.6" lengthAdjust="spacingAndGlyphs">2.0</text>
<text x="125.00" y="432.8" text-anchor="middle" font-family="Liberation Serif" font-style="italic" font-size="13px" fill="#333">ε</text>
<text x="125" y="215" text-anchor="middle" font-family="Liberation Sans" font-size="12.3px" fill="#1f77b4" stroke="#1f77b4" stroke-width="0.15" textLength="46" lengthAdjust="spacingAndGlyphs">autocorr</text>
<text transform="translate(6.5,312.2) rotate(-90)" text-anchor="middle" font-family="Liberation Serif" font-style="italic" font-size="13px" fill="#222">σ</text>
<circle cx="124.8" cy="312.3" r="2.5" fill="#1f77b4"/>
<text x="99.00" y="308.40" font-family="Liberation Serif" font-weight="bold" font-style="italic" font-size="14.50px" fill="#1f77b4">θ</text>
<text x="107.20" y="301.60" font-family="Liberation Serif" font-size="10.50px" fill="#1f77b4">(1)</text>
<text x="107.30" y="313.20" font-family="Liberation Serif" font-size="10.00px" fill="#1f77b4">0</text>
<g stroke="#111" stroke-width="0.9"><line x1="261.80" y1="404.4" x2="261.80" y2="407.2"/><line x1="299.70" y1="404.4" x2="299.70" y2="407.2"/><line x1="337.60" y1="404.4" x2="337.60" y2="407.2"/><line x1="375.50" y1="404.4" x2="375.50" y2="407.2"/><line x1="413.40" y1="404.4" x2="413.40" y2="407.2"/></g>
<rect x="223.9" y="220.3" width="189.50" height="184.10" fill="none" stroke="#ff7f0e" stroke-width="1.5"/>
<text x="255.50" y="417.9" font-family="Liberation Sans" font-size="10.6px" fill="#222" textLength="12.6" lengthAdjust="spacingAndGlyphs">1.0</text>
<text x="293.40" y="417.9" font-family="Liberation Sans" font-size="10.6px" fill="#222" textLength="12.6" lengthAdjust="spacingAndGlyphs">2.0</text>
<text x="331.30" y="417.9" font-family="Liberation Sans" font-size="10.6px" fill="#222" textLength="12.6" lengthAdjust="spacingAndGlyphs">3.0</text>
<text x="369.20" y="417.9" font-family="Liberation Sans" font-size="10.6px" fill="#222" textLength="12.6" lengthAdjust="spacingAndGlyphs">4.0</text>
<text x="407.10" y="417.9" font-family="Liberation Sans" font-size="10.6px" fill="#222" textLength="12.6" lengthAdjust="spacingAndGlyphs">5.0</text>
<text x="318.65" y="432.8" text-anchor="middle" font-family="Liberation Serif" font-style="italic" font-size="13px" fill="#333">ε</text>
<text x="318.6" y="215" text-anchor="middle" font-family="Liberation Sans" font-size="12.3px" fill="#ff7f0e" stroke="#ff7f0e" stroke-width="0.15" textLength="44" lengthAdjust="spacingAndGlyphs">YuleNet</text>
<circle cx="262.2" cy="266.3" r="2.3" fill="#ff7f0e"/>
<text x="236.20" y="262.20" font-family="Liberation Serif" font-weight="bold" font-style="italic" font-size="14.50px" fill="#ff7f0e">θ</text>
<text x="244.40" y="255.40" font-family="Liberation Serif" font-size="10.50px" fill="#ff7f0e">(3)</text>
<text x="244.50" y="267.00" font-family="Liberation Serif" font-size="10.00px" fill="#ff7f0e">0</text>
<circle cx="375.4" cy="266.1" r="2.3" fill="#ff7f0e"/>
<text x="350.20" y="262.20" font-family="Liberation Serif" font-weight="bold" font-style="italic" font-size="14.50px" fill="#ff7f0e">θ</text>
<text x="358.40" y="255.40" font-family="Liberation Serif" font-size="10.50px" fill="#ff7f0e">(5)</text>
<text x="358.50" y="267.00" font-family="Liberation Serif" font-size="10.00px" fill="#ff7f0e">0</text>
<circle cx="318.7" cy="312.2" r="2.3" fill="#ff7f0e"/>
<text x="293.40" y="308.40" font-family="Liberation Serif" font-weight="bold" font-style="italic" font-size="14.50px" fill="#ff7f0e">θ</text>
<text x="301.60" y="301.60" font-family="Liberation Serif" font-size="10.50px" fill="#ff7f0e">(1)</text>
<text x="301.70" y="313.20" font-family="Liberation Serif" font-size="10.00px" fill="#ff7f0e">0</text>
<circle cx="261.6" cy="358.3" r="2.3" fill="#ff7f0e"/>
<text x="236.40" y="354.40" font-family="Liberation Serif" font-weight="bold" font-style="italic" font-size="14.50px" fill="#ff7f0e">θ</text>
<text x="244.60" y="347.60" font-family="Liberation Serif" font-size="10.50px" fill="#ff7f0e">(2)</text>
<text x="244.70" y="359.20" font-family="Liberation Serif" font-size="10.00px" fill="#ff7f0e">0</text>
<circle cx="375.4" cy="358.3" r="2.3" fill="#ff7f0e"/>
<text x="350.30" y="354.40" font-family="Liberation Serif" font-weight="bold" font-style="italic" font-size="14.50px" fill="#ff7f0e">θ</text>
<text x="358.50" y="347.60" font-family="Liberation Serif" font-size="10.50px" fill="#ff7f0e">(4)</text>
<text x="358.60" y="359.20" font-family="Liberation Serif" font-size="10.00px" fill="#ff7f0e">0</text>
<g stroke="#111" stroke-width="0.7"><line x1="436.20" y1="306.6" x2="436.20" y2="309.6"/><line x1="454.70" y1="306.6" x2="454.70" y2="309.6"/><line x1="473.20" y1="306.6" x2="473.20" y2="309.6"/><line x1="491.70" y1="306.6" x2="491.70" y2="309.6"/><line x1="507.6" y1="287.70" x2="510.6" y2="287.70"/><line x1="507.6" y1="265.00" x2="510.6" y2="265.00"/><line x1="507.6" y1="242.30" x2="510.6" y2="242.30"/></g>
<rect x="418.1" y="220.8" width="92.5" height="88.8" fill="none" stroke="#ff7f0e" stroke-width="1.5"/>
<text x="436.20" y="305.40" text-anchor="middle" font-family="Liberation Sans" font-size="4.8px" fill="#222">1</text>
<text x="454.70" y="305.40" text-anchor="middle" font-family="Liberation Sans" font-size="4.8px" fill="#222">2</text>
<text x="473.20" y="305.40" text-anchor="middle" font-family="Liberation Sans" font-size="4.8px" fill="#222">3</text>
<text x="491.70" y="305.40" text-anchor="middle" font-family="Liberation Sans" font-size="4.8px" fill="#222">4</text>
<text x="507.30" y="290.20" text-anchor="end" font-family="Liberation Sans" font-size="4.8px" fill="#222">0.5</text>
<text x="507.30" y="267.50" text-anchor="end" font-family="Liberation Sans" font-size="4.8px" fill="#222">1.0</text>
<text x="507.30" y="244.80" text-anchor="end" font-family="Liberation Sans" font-size="4.8px" fill="#222">1.5</text>
<text x="423.70" y="233.60" font-family="Liberation Serif" font-style="italic" font-size="12.5px" fill="#ff7f0e" fill-opacity="0.7" textLength="7.6" lengthAdjust="spacingAndGlyphs">n</text>
<text x="431.30" y="236.00" font-family="Liberation Serif" font-style="italic" font-size="8.5px" fill="#ff7f0e" fill-opacity="0.7">s</text>
<rect x="439.00" y="229.30" width="7.6" height="0.8" fill="#ff7f0e" fill-opacity="0.85"/><rect x="439.00" y="232.00" width="7.6" height="0.8" fill="#ff7f0e" fill-opacity="0.85"/>
<text x="451.50" y="233.90" font-family="Liberation Sans" font-size="10.2px" fill="#ff7f0e">512</text>
<circle cx="463.95" cy="265.00" r="2.5" fill="#ff7f0e"/>
<text x="442.70" y="283.40" font-family="Liberation Serif" font-weight="bold" font-style="italic" font-size="14.50px" fill="#ff7f0e">θ</text>
<text x="450.90" y="276.60" font-family="Liberation Serif" font-size="10.50px" fill="#ff7f0e">(1)</text>
<text x="451.00" y="288.20" font-family="Liberation Serif" font-size="10.00px" fill="#ff7f0e">0</text>
<g stroke="#111" stroke-width="0.7"><line x1="532.80" y1="306.6" x2="532.80" y2="309.6"/><line x1="551.30" y1="306.6" x2="551.30" y2="309.6"/><line x1="569.80" y1="306.6" x2="569.80" y2="309.6"/><line x1="588.30" y1="306.6" x2="588.30" y2="309.6"/><line x1="604.2" y1="287.70" x2="607.2" y2="287.70"/><line x1="604.2" y1="265.00" x2="607.2" y2="265.00"/><line x1="604.2" y1="242.30" x2="607.2" y2="242.30"/></g>
<rect x="514.7" y="220.8" width="92.5" height="88.8" fill="none" stroke="#ff7f0e" stroke-width="1.5"/>
<text x="532.80" y="305.40" text-anchor="middle" font-family="Liberation Sans" font-size="4.8px" fill="#222">1</text>
<text x="551.30" y="305.40" text-anchor="middle" font-family="Liberation Sans" font-size="4.8px" fill="#222">2</text>
<text x="569.80" y="305.40" text-anchor="middle" font-family="Liberation Sans" font-size="4.8px" fill="#222">3</text>
<text x="588.30" y="305.40" text-anchor="middle" font-family="Liberation Sans" font-size="4.8px" fill="#222">4</text>
<text x="603.90" y="290.20" text-anchor="end" font-family="Liberation Sans" font-size="4.8px" fill="#222">0.5</text>
<text x="603.90" y="267.50" text-anchor="end" font-family="Liberation Sans" font-size="4.8px" fill="#222">1.0</text>
<text x="603.90" y="244.80" text-anchor="end" font-family="Liberation Sans" font-size="4.8px" fill="#222">1.5</text>
<text x="520.30" y="233.60" font-family="Liberation Serif" font-style="italic" font-size="12.5px" fill="#ff7f0e" fill-opacity="0.7" textLength="7.6" lengthAdjust="spacingAndGlyphs">n</text>
<text x="527.90" y="236.00" font-family="Liberation Serif" font-style="italic" font-size="8.5px" fill="#ff7f0e" fill-opacity="0.7">s</text>
<rect x="535.60" y="229.30" width="7.6" height="0.8" fill="#ff7f0e" fill-opacity="0.85"/><rect x="535.60" y="232.00" width="7.6" height="0.8" fill="#ff7f0e" fill-opacity="0.85"/>
<text x="548.10" y="233.90" font-family="Liberation Sans" font-size="10.2px" fill="#ff7f0e">1024</text>
<circle cx="560.55" cy="265.00" r="2.5" fill="#ff7f0e"/>
<text x="539.30" y="283.40" font-family="Liberation Serif" font-weight="bold" font-style="italic" font-size="14.50px" fill="#ff7f0e">θ</text>
<text x="547.50" y="276.60" font-family="Liberation Serif" font-size="10.50px" fill="#ff7f0e">(1)</text>
<text x="547.60" y="288.20" font-family="Liberation Serif" font-size="10.00px" fill="#ff7f0e">0</text>
<g stroke="#111" stroke-width="0.7"><line x1="436.20" y1="401.1" x2="436.20" y2="404.1"/><line x1="454.70" y1="401.1" x2="454.70" y2="404.1"/><line x1="473.20" y1="401.1" x2="473.20" y2="404.1"/><line x1="491.70" y1="401.1" x2="491.70" y2="404.1"/><line x1="507.6" y1="382.20" x2="510.6" y2="382.20"/><line x1="507.6" y1="359.50" x2="510.6" y2="359.50"/><line x1="507.6" y1="336.80" x2="510.6" y2="336.80"/></g>
<rect x="418.1" y="315.3" width="92.5" height="88.8" fill="none" stroke="#ff7f0e" stroke-width="1.5"/>
<text x="436.20" y="399.90" text-anchor="middle" font-family="Liberation Sans" font-size="4.8px" fill="#222">1</text>
<text x="454.70" y="399.90" text-anchor="middle" font-family="Liberation Sans" font-size="4.8px" fill="#222">2</text>
<text x="473.20" y="399.90" text-anchor="middle" font-family="Liberation Sans" font-size="4.8px" fill="#222">3</text>
<text x="491.70" y="399.90" text-anchor="middle" font-family="Liberation Sans" font-size="4.8px" fill="#222">4</text>
<text x="507.30" y="384.70" text-anchor="end" font-family="Liberation Sans" font-size="4.8px" fill="#222">0.5</text>
<text x="507.30" y="362.00" text-anchor="end" font-family="Liberation Sans" font-size="4.8px" fill="#222">1.0</text>
<text x="507.30" y="339.30" text-anchor="end" font-family="Liberation Sans" font-size="4.8px" fill="#222">1.5</text>
<text x="423.70" y="328.10" font-family="Liberation Serif" font-style="italic" font-size="12.5px" fill="#ff7f0e" fill-opacity="0.7" textLength="7.6" lengthAdjust="spacingAndGlyphs">n</text>
<text x="431.30" y="330.50" font-family="Liberation Serif" font-style="italic" font-size="8.5px" fill="#ff7f0e" fill-opacity="0.7">s</text>
<rect x="439.00" y="323.80" width="7.6" height="0.8" fill="#ff7f0e" fill-opacity="0.85"/><rect x="439.00" y="326.50" width="7.6" height="0.8" fill="#ff7f0e" fill-opacity="0.85"/>
<text x="451.50" y="328.40" font-family="Liberation Sans" font-size="10.2px" fill="#ff7f0e">2048</text>
<circle cx="463.95" cy="359.50" r="2.5" fill="#ff7f0e"/>
<text x="442.70" y="377.90" font-family="Liberation Serif" font-weight="bold" font-style="italic" font-size="14.50px" fill="#ff7f0e">θ</text>
<text x="450.90" y="371.10" font-family="Liberation Serif" font-size="10.50px" fill="#ff7f0e">(1)</text>
<text x="451.00" y="382.70" font-family="Liberation Serif" font-size="10.00px" fill="#ff7f0e">0</text>
<g stroke="#111" stroke-width="0.7"><line x1="532.80" y1="401.1" x2="532.80" y2="404.1"/><line x1="551.30" y1="401.1" x2="551.30" y2="404.1"/><line x1="569.80" y1="401.1" x2="569.80" y2="404.1"/><line x1="588.30" y1="401.1" x2="588.30" y2="404.1"/><line x1="604.2" y1="382.20" x2="607.2" y2="382.20"/><line x1="604.2" y1="359.50" x2="607.2" y2="359.50"/><line x1="604.2" y1="336.80" x2="607.2" y2="336.80"/></g>
<rect x="514.7" y="315.3" width="92.5" height="88.8" fill="none" stroke="#ff7f0e" stroke-width="1.5"/>
<text x="532.80" y="399.90" text-anchor="middle" font-family="Liberation Sans" font-size="4.8px" fill="#222">1</text>
<text x="551.30" y="399.90" text-anchor="middle" font-family="Liberation Sans" font-size="4.8px" fill="#222">2</text>
<text x="569.80" y="399.90" text-anchor="middle" font-family="Liberation Sans" font-size="4.8px" fill="#222">3</text>
<text x="588.30" y="399.90" text-anchor="middle" font-family="Liberation Sans" font-size="4.8px" fill="#222">4</text>
<text x="603.90" y="384.70" text-anchor="end" font-family="Liberation Sans" font-size="4.8px" fill="#222">0.5</text>
<text x="603.90" y="362.00" text-anchor="end" font-family="Liberation Sans" font-size="4.8px" fill="#222">1.0</text>
<text x="603.90" y="339.30" text-anchor="end" font-family="Liberation Sans" font-size="4.8px" fill="#222">1.5</text>
<text x="520.30" y="328.10" font-family="Liberation Serif" font-style="italic" font-size="12.5px" fill="#ff7f0e" fill-opacity="0.7" textLength="7.6" lengthAdjust="spacingAndGlyphs">n</text>
<text x="527.90" y="330.50" font-family="Liberation Serif" font-style="italic" font-size="8.5px" fill="#ff7f0e" fill-opacity="0.7">s</text>
<rect x="535.60" y="323.80" width="7.6" height="0.8" fill="#ff7f0e" fill-opacity="0.85"/><rect x="535.60" y="326.50" width="7.6" height="0.8" fill="#ff7f0e" fill-opacity="0.85"/>
<text x="548.10" y="328.40" font-family="Liberation Sans" font-size="10.2px" fill="#ff7f0e">4096</text>
<circle cx="560.55" cy="359.50" r="2.5" fill="#ff7f0e"/>
<text x="539.30" y="377.90" font-family="Liberation Serif" font-weight="bold" font-style="italic" font-size="14.50px" fill="#ff7f0e">θ</text>
<text x="547.50" y="371.10" font-family="Liberation Serif" font-size="10.50px" fill="#ff7f0e">(1)</text>
<text x="547.60" y="382.70" font-family="Liberation Serif" font-size="10.00px" fill="#ff7f0e">0</text>
<text transform="translate(620,264.9) rotate(-90)" text-anchor="middle" font-family="Liberation Serif" font-style="italic" font-size="13px" fill="#222">σ</text>
<text transform="translate(620,359.5) rotate(-90)" text-anchor="middle" font-family="Liberation Serif" font-style="italic" font-size="13px" fill="#222">σ</text>
<text x="464.3" y="418" text-anchor="middle" font-family="Liberation Serif" font-style="italic" font-size="13px" fill="#222">ε</text>
<text x="561" y="418" text-anchor="middle" font-family="Liberation Serif" font-style="italic" font-size="13px" fill="#222">ε</text></svg>
<div class="l" style="top:7.70px;word-spacing:0px">Figure<i class="sp" style="width:2.8px"></i>1:<i class="sp" style="width:10.1px"></i>Wasserstein<i class="sp" style="width:5.6px"></i>distance<i class="sp" style="width:6px"></i>be-</div><div class="l" style="top:25.66px;word-spacing:2.0px">tween the estimated posterior and</div><div class="l" style="top:43.62px;word-spacing:0.0px">the analytical posterior distribution</div><div class="l" style="top:61.58px;word-spacing:-0.13px">for the examples on <b>linear time se-</b></div><div class="l" style="top:79.54px;word-spacing:0.75px"><b>ries processes</b>. The distances have</div><div class="l" style="top:97.50px;word-spacing:5.0px">been averaged over 100 batches</div><div class="l" style="top:115.46px;word-spacing:3.0px">with 100 samples from each pos-</div><div class="l" style="top:133.42px;word-spacing:1.1px">terior distribution (all calculations</div><div class="l" style="top:151.38px;word-spacing:0px">done with the <span class="m">POT</span> package [9])</div>
</body></html>
